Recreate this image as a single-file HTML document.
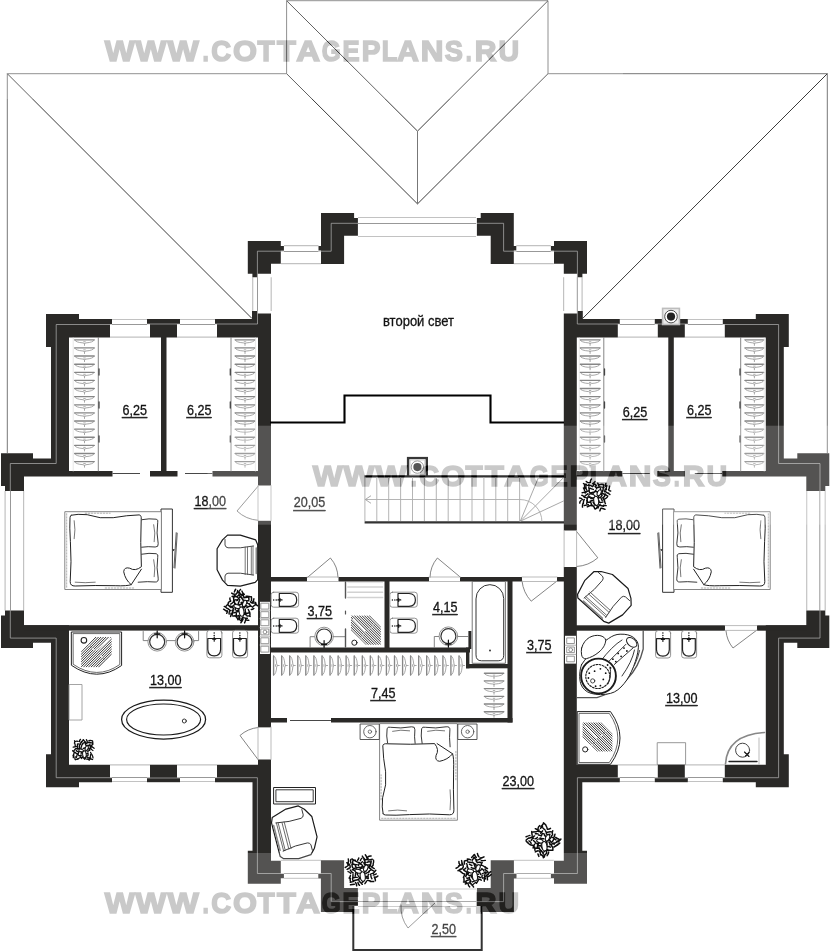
<!DOCTYPE html>
<html><head><meta charset="utf-8"><title>Plan</title>
<style>html,body{margin:0;padding:0;background:#fff;}svg{display:block;}text{font-family:"Liberation Sans",sans-serif;}</style>
</head><body>
<svg width="831" height="952" viewBox="0 0 831 952" shape-rendering="geometricPrecision">
<g id="roof">
<polyline points="7.3,453 7.3,73.7 286.6,73.7 286.6,0.7 548,0.7 548,73.7 827.3,73.7 827.3,453" fill="none" stroke="#777" stroke-width="1" />
<polyline points="7.3,73.7 252,318.5" fill="none" stroke="#3c3c3c" stroke-width="1" />
<polyline points="827.3,73.7 582.6,318.5" fill="none" stroke="#3c3c3c" stroke-width="1" />
<polyline points="286.6,0.7 417.5,131.1 548,0.7" fill="none" stroke="#3c3c3c" stroke-width="1" />
<polyline points="286.6,73.7 417.5,203.9 548,73.7" fill="none" stroke="#3c3c3c" stroke-width="1" />
<polyline points="417.5,131.1 417.5,203.9" fill="none" stroke="#777" stroke-width="1" />
</g>
<g id="windows">
<polyline points="358,217.5 476,217.5" fill="none" stroke="#c2c2c2" stroke-width="1.2" />
<polyline points="358,223.5 476,223.5" fill="none" stroke="#8c8c8c" stroke-width="0.9" />
<polyline points="358,236.5 476,236.5" fill="none" stroke="#c2c2c2" stroke-width="1.2" />
<polyline points="284,245.6 318.5,245.6" fill="none" stroke="#c2c2c2" stroke-width="1.2" />
<polyline points="550.8,245.6 516.3,245.6" fill="none" stroke="#c2c2c2" stroke-width="1.2" />
<polyline points="284,251.5 318.5,251.5" fill="none" stroke="#8c8c8c" stroke-width="0.9" />
<polyline points="550.8,251.5 516.3,251.5" fill="none" stroke="#8c8c8c" stroke-width="0.9" />
<polyline points="281,263.6 321,263.6" fill="none" stroke="#c2c2c2" stroke-width="1.2" />
<polyline points="553.8,263.6 513.8,263.6" fill="none" stroke="#c2c2c2" stroke-width="1.2" />
<polyline points="252.7,277.3 252.7,311" fill="none" stroke="#c2c2c2" stroke-width="1.2" />
<polyline points="582.1,277.3 582.1,311" fill="none" stroke="#c2c2c2" stroke-width="1.2" />
<polyline points="257.5,277.3 257.5,311" fill="none" stroke="#8c8c8c" stroke-width="0.9" />
<polyline points="577.3,277.3 577.3,311" fill="none" stroke="#8c8c8c" stroke-width="0.9" />
<polyline points="271.2,277.3 271.2,311" fill="none" stroke="#c2c2c2" stroke-width="1.2" />
<polyline points="563.6,277.3 563.6,311" fill="none" stroke="#c2c2c2" stroke-width="1.2" />
<polyline points="112,319.5 147,319.5" fill="none" stroke="#c2c2c2" stroke-width="1.2" />
<polyline points="722.8,319.5 687.8,319.5" fill="none" stroke="#c2c2c2" stroke-width="1.2" />
<polyline points="112,324.5 147,324.5" fill="none" stroke="#8c8c8c" stroke-width="0.9" />
<polyline points="722.8,324.5 687.8,324.5" fill="none" stroke="#8c8c8c" stroke-width="0.9" />
<polyline points="180,319.5 215,319.5" fill="none" stroke="#c2c2c2" stroke-width="1.2" />
<polyline points="654.8,319.5 619.8,319.5" fill="none" stroke="#c2c2c2" stroke-width="1.2" />
<polyline points="180,324.5 215,324.5" fill="none" stroke="#8c8c8c" stroke-width="0.9" />
<polyline points="654.8,324.5 619.8,324.5" fill="none" stroke="#8c8c8c" stroke-width="0.9" />
<polyline points="110,337.2 150,337.2" fill="none" stroke="#c2c2c2" stroke-width="1.2" />
<polyline points="724.8,337.2 684.8,337.2" fill="none" stroke="#c2c2c2" stroke-width="1.2" />
<polyline points="177,337.2 217,337.2" fill="none" stroke="#c2c2c2" stroke-width="1.2" />
<polyline points="657.8,337.2 617.8,337.2" fill="none" stroke="#c2c2c2" stroke-width="1.2" />
<polyline points="112,781.5 147,781.5" fill="none" stroke="#c2c2c2" stroke-width="1.2" />
<polyline points="722.8,781.5 687.8,781.5" fill="none" stroke="#c2c2c2" stroke-width="1.2" />
<polyline points="112,777.5 147,777.5" fill="none" stroke="#8c8c8c" stroke-width="0.9" />
<polyline points="722.8,777.5 687.8,777.5" fill="none" stroke="#8c8c8c" stroke-width="0.9" />
<polyline points="180,781.5 215,781.5" fill="none" stroke="#c2c2c2" stroke-width="1.2" />
<polyline points="654.8,781.5 619.8,781.5" fill="none" stroke="#c2c2c2" stroke-width="1.2" />
<polyline points="180,777.5 215,777.5" fill="none" stroke="#8c8c8c" stroke-width="0.9" />
<polyline points="654.8,777.5 619.8,777.5" fill="none" stroke="#8c8c8c" stroke-width="0.9" />
<polyline points="110,764.8 150,764.8" fill="none" stroke="#c2c2c2" stroke-width="1.2" />
<polyline points="724.8,764.8 684.8,764.8" fill="none" stroke="#c2c2c2" stroke-width="1.2" />
<polyline points="177,764.8 217,764.8" fill="none" stroke="#c2c2c2" stroke-width="1.2" />
<polyline points="657.8,764.8 617.8,764.8" fill="none" stroke="#c2c2c2" stroke-width="1.2" />
<polyline points="5.1,491 5.1,610.4" fill="none" stroke="#c2c2c2" stroke-width="1.2" />
<polyline points="825.2,491 825.2,610.4" fill="none" stroke="#c2c2c2" stroke-width="1.2" />
<polyline points="10.5,491 10.5,610.4" fill="none" stroke="#8c8c8c" stroke-width="0.9" />
<polyline points="819.8,491 819.8,610.4" fill="none" stroke="#8c8c8c" stroke-width="0.9" />
<polyline points="23.6,491 23.6,610.4" fill="none" stroke="#c2c2c2" stroke-width="1.2" />
<polyline points="806.7,491 806.7,610.4" fill="none" stroke="#c2c2c2" stroke-width="1.2" />
<polyline points="284,878.3 318.3,878.3" fill="none" stroke="#c2c2c2" stroke-width="1.2" />
<polyline points="550.8,878.3 516.5,878.3" fill="none" stroke="#c2c2c2" stroke-width="1.2" />
<polyline points="284,873.5 318.3,873.5" fill="none" stroke="#8c8c8c" stroke-width="0.9" />
<polyline points="550.8,873.5 516.5,873.5" fill="none" stroke="#8c8c8c" stroke-width="0.9" />
<polyline points="281,860.3 321,860.3" fill="none" stroke="#c2c2c2" stroke-width="1.2" />
<polyline points="553.8,860.3 513.8,860.3" fill="none" stroke="#c2c2c2" stroke-width="1.2" />
<polyline points="358,889 476,889" fill="none" stroke="#c2c2c2" stroke-width="1.2" />
<polyline points="358,901.5 476,901.5" fill="none" stroke="#8c8c8c" stroke-width="0.9" />
<polyline points="358,906.5 476,906.5" fill="none" stroke="#c2c2c2" stroke-width="1.2" />
</g>
<g id="walls">
<polygon points="321,212.9 354.1,212.9 354.1,217.9 357.9,217.9 357.9,235.8 344.1,235.8 344.1,263.9 321,263.9 321,250.6 318.5,250.6 318.5,246 321,246" fill="#2a2927" />
<polygon points="513.8,212.9 480.7,212.9 480.7,217.9 476.9,217.9 476.9,235.8 490.7,235.8 490.7,263.9 513.8,263.9 513.8,250.6 516.3,250.6 516.3,246 513.8,246" fill="#2a2927" />
<polygon points="247.8,241.1 280.8,241.1 280.8,245.9 283.9,245.9 283.9,250.7 280.8,250.7 280.8,263.8 271,263.8 271,273.8 257.6,273.8 257.6,277.3 252.4,277.3 252.4,273.8 247.8,273.8" fill="#2a2927" />
<polygon points="587,241.1 554,241.1 554,245.9 550.9,245.9 550.9,250.7 554,250.7 554,263.8 563.8,263.8 563.8,273.8 577.2,273.8 577.2,277.3 582.4,277.3 582.4,273.8 587,273.8" fill="#2a2927" />
<polygon points="252,311 257.5,311 257.5,313.5 271,313.5 271,485.5 258,485.5 258,337.5 217,337.5 217,324 215,324 215,319 252,319" fill="#2a2927" />
<polygon points="582.8,311 577.3,311 577.3,313.5 563.8,313.5 563.8,530.6 576.8,530.6 576.8,337.5 617.8,337.5 617.8,324 619.8,324 619.8,319 582.8,319" fill="#2a2927" />
<rect x="147" y="319" width="33" height="5" fill="#2a2927" />
<rect x="654.8" y="319" width="33" height="5" fill="#2a2927" />
<rect x="150" y="324" width="27" height="13.5" fill="#2a2927" />
<rect x="657.8" y="324" width="27" height="13.5" fill="#2a2927" />
<rect x="161" y="337" width="5.5" height="135" fill="#2a2927" />
<rect x="668.3" y="337" width="5.5" height="135" fill="#2a2927" />
<rect x="150" y="471" width="27.5" height="5.5" fill="#2a2927" />
<rect x="657.3" y="471" width="27.5" height="5.5" fill="#2a2927" />
<rect x="212.5" y="471" width="45.5" height="5.5" fill="#2a2927" />
<rect x="576.8" y="471" width="45.5" height="5.5" fill="#2a2927" />
<polygon points="46,314 79,314 79,319 112,319 112,324 110,324 110,337.5 69,337.5 69,471 112.5,471 112.5,476.5 24,476.5 24,491 5,491 5,486 1,486 1,453.2 33,453.2 33,458.4 51,458.4 51,347 46,347" fill="#2a2927" />
<polygon points="788.8,314 755.8,314 755.8,319 722.8,319 722.8,324 724.8,324 724.8,337.5 765.8,337.5 765.8,471 722.3,471 722.3,476.5 806.3,476.5 806.3,491 825.3,491 825.3,486 829.3,486 829.3,453.2 797.3,453.2 797.3,458.4 783.8,458.4 783.8,347 788.8,347" fill="#2a2927" />
<polygon points="46,787.2 79,787.2 79,782.2 112,782.2 112,777.7 110,777.7 110,764.7 69,764.7 69,625.2 24,625.2 24,610.4 5,610.4 5,615.4 1,615.4 1,648 33,648 33,642.8 51,642.8 51,754.3 46,754.3" fill="#2a2927" />
<polygon points="788.8,787.2 755.8,787.2 755.8,782.2 722.8,782.2 722.8,777.7 724.8,777.7 724.8,764.7 765.8,764.7 765.8,625.2 806.3,625.2 806.3,610.4 825.3,610.4 825.3,615.4 829.3,615.4 829.3,648 797.3,648 797.3,642.8 783.8,642.8 783.8,754.3 788.8,754.3" fill="#2a2927" />
<rect x="147" y="777.7" width="33" height="4.5" fill="#2a2927" />
<rect x="654.8" y="777.7" width="33" height="4.5" fill="#2a2927" />
<rect x="150" y="764.7" width="27" height="13.3" fill="#2a2927" />
<rect x="657.8" y="764.7" width="27" height="13.3" fill="#2a2927" />
<polygon points="217,764.7 258,764.7 258,759.5 271,759.5 271,860.8 280.8,860.8 280.8,873.9 283.9,873.9 283.9,878.3 280.8,878.3 280.8,883.7 247.8,883.7 247.8,850.8 252.5,850.8 252.5,782.2 215,782.2 215,777.7 217,777.7" fill="#2a2927" />
<polygon points="617.8,764.7 576.8,764.7 576.8,566.9 563.8,566.9 563.8,860.8 554,860.8 554,873.9 550.9,873.9 550.9,878.3 554,878.3 554,883.7 587,883.7 587,850.8 582.3,850.8 582.3,782.2 619.8,782.2 619.8,777.7 617.8,777.7" fill="#2a2927" />
<polygon points="320.9,911.9 354.1,911.9 354.1,906 357.9,906 357.9,888.1 344.1,888.1 344.1,860.3 320.9,860.3 320.9,873.7 318.3,873.7 318.3,878.4 320.9,878.4" fill="#2a2927" />
<polygon points="513.9,911.9 480.7,911.9 480.7,906 476.9,906 476.9,888.1 490.7,888.1 490.7,860.3 513.9,860.3 513.9,873.7 516.5,873.7 516.5,878.4 513.9,878.4" fill="#2a2927" />
<rect x="258" y="520.8" width="13" height="206.4" fill="#2a2927" />
<rect x="258" y="654" width="12.8" height="73.2" fill="#2a2927" />
<rect x="24" y="625.2" width="234" height="5.4" fill="#2a2927" />
<rect x="576" y="625.3" width="149" height="5.4" fill="#2a2927" />
<rect x="757" y="625.3" width="50" height="5.4" fill="#2a2927" />
<rect x="270" y="577" width="37" height="4.5" fill="#2a2927" />
<rect x="338.5" y="577" width="90.5" height="4.5" fill="#2a2927" />
<rect x="460" y="577" width="62" height="4.5" fill="#2a2927" />
<rect x="557" y="577" width="8" height="4.5" fill="#2a2927" />
<rect x="384.5" y="581" width="5" height="67" fill="#2a2927" />
<rect x="270" y="647.5" width="200" height="5" fill="#2a2927" />
<rect x="468.4" y="631" width="3" height="18" fill="#2a2927" />
<rect x="466" y="647.5" width="3.4" height="20.8" fill="#2a2927" />
<rect x="466" y="664" width="46" height="4.3" fill="#2a2927" />
<rect x="507.5" y="577" width="5" height="145.5" fill="#2a2927" />
<rect x="331" y="718" width="181.5" height="4.5" fill="#2a2927" />
<rect x="270" y="718" width="17" height="4.5" fill="#2a2927" />
</g>
<g id="facing">
<polyline points="358,223.3 331.2,223.3 331.2,251.2 318.5,251.2" fill="none" stroke="#b4b4b4" stroke-width="0.7" />
<polyline points="476.8,223.3 503.6,223.3 503.6,251.2 516.3,251.2" fill="none" stroke="#b4b4b4" stroke-width="0.7" />
<polyline points="284,251.2 257.4,251.2 257.4,277.3" fill="none" stroke="#b4b4b4" stroke-width="0.7" />
<polyline points="550.8,251.2 577.4,251.2 577.4,277.3" fill="none" stroke="#b4b4b4" stroke-width="0.7" />
<polyline points="257.5,311 257.5,324 215,324" fill="none" stroke="#b4b4b4" stroke-width="0.7" />
<polyline points="577.3,311 577.3,324 619.8,324" fill="none" stroke="#b4b4b4" stroke-width="0.7" />
<polyline points="180,324 147,324" fill="none" stroke="#b4b4b4" stroke-width="0.7" />
<polyline points="654.8,324 687.8,324" fill="none" stroke="#b4b4b4" stroke-width="0.7" />
<polyline points="112,324.5 56.2,324.5 56.2,463.5 10.3,463.5 10.3,491" fill="none" stroke="#b4b4b4" stroke-width="0.7" />
<polyline points="722.8,324.5 778.6,324.5 778.6,463.5 820,463.5 820,491" fill="none" stroke="#b4b4b4" stroke-width="0.7" />
<polyline points="112,777.7 56.2,777.7 56.2,638.1 10.3,638.1 10.3,610.4" fill="none" stroke="#b4b4b4" stroke-width="0.7" />
<polyline points="722.8,777.7 778.6,777.7 778.6,638.1 820,638.1 820,610.4" fill="none" stroke="#b4b4b4" stroke-width="0.7" />
<polyline points="180,778 147,778" fill="none" stroke="#b4b4b4" stroke-width="0.7" />
<polyline points="654.8,778 687.8,778" fill="none" stroke="#b4b4b4" stroke-width="0.7" />
<polyline points="215,777.7 257.4,777.7 257.4,873.5 284,873.5" fill="none" stroke="#b4b4b4" stroke-width="0.7" />
<polyline points="619.8,777.7 577.4,777.7 577.4,873.5 550.8,873.5" fill="none" stroke="#b4b4b4" stroke-width="0.7" />
<polyline points="318.3,873.5 331.2,873.5 331.2,901.6 358,901.6" fill="none" stroke="#b4b4b4" stroke-width="0.7" />
<polyline points="516.5,873.5 503.6,873.5 503.6,901.6 476.8,901.6" fill="none" stroke="#b4b4b4" stroke-width="0.7" />
</g>
<g id="thin">
<polyline points="112.5,473.5 140,473.5" fill="none" stroke="#333" stroke-width="0.9" />
<polyline points="722.3,473.5 694.8,473.5" fill="none" stroke="#333" stroke-width="0.9" />
<polyline points="185,473.5 212.5,473.5" fill="none" stroke="#333" stroke-width="0.9" />
<polyline points="649.8,473.5 622.3,473.5" fill="none" stroke="#333" stroke-width="0.9" />
<polyline points="290,720.5 331,720.5" fill="none" stroke="#333" stroke-width="0.9" />
</g>
<g id="hall">
<polyline points="270,422.5 344.5,422.5 344.5,395.5 490.5,395.5 490.5,422.5 564,422.5" fill="none" stroke="#000" stroke-width="2.1" />
<polyline points="364.6,476.4 564,476.4" fill="none" stroke="#000" stroke-width="2.4" />
<polyline points="364.6,522.4 564,522.4" fill="none" stroke="#000" stroke-width="2.3" />
<polyline points="364.9,477 364.9,521" fill="none" stroke="#999" stroke-width="0.9" />
<polyline points="376.8,477 376.8,521" fill="none" stroke="#999" stroke-width="0.9" />
<polyline points="388.7,477 388.7,521" fill="none" stroke="#999" stroke-width="0.9" />
<polyline points="400.6,477 400.6,521" fill="none" stroke="#999" stroke-width="0.9" />
<polyline points="412.5,477 412.5,521" fill="none" stroke="#999" stroke-width="0.9" />
<polyline points="424.4,477 424.4,521" fill="none" stroke="#999" stroke-width="0.9" />
<polyline points="436.3,477 436.3,521" fill="none" stroke="#999" stroke-width="0.9" />
<polyline points="448.2,477 448.2,521" fill="none" stroke="#999" stroke-width="0.9" />
<polyline points="460.1,477 460.1,521" fill="none" stroke="#999" stroke-width="0.9" />
<polyline points="472,477 472,521" fill="none" stroke="#999" stroke-width="0.9" />
<polyline points="483.9,477 483.9,521" fill="none" stroke="#999" stroke-width="0.9" />
<polyline points="495.8,477 495.8,521" fill="none" stroke="#999" stroke-width="0.9" />
<polyline points="507.7,477 507.7,521" fill="none" stroke="#999" stroke-width="0.9" />
<polyline points="519.6,477 519.6,521" fill="none" stroke="#999" stroke-width="0.9" />
<polyline points="365.5,499.5 520,499.5" fill="none" stroke="#999" stroke-width="0.9" />
<polyline points="371,495.7 365.3,499.5 371,503.3" fill="none" stroke="#888" stroke-width="0.9" />
<rect x="406.9" y="456.9" width="21.1" height="19.1" fill="#050505" />
<rect x="409.3" y="459.2" width="16.3" height="16.1" fill="#fff" />
<rect x="410.2" y="460.1" width="14.5" height="14.4" fill="#fff" stroke="#bbb" stroke-width="0.6"/>
<circle cx="417.4" cy="467.1" r="6.2" fill="#fff" stroke="#777" stroke-width="0.9"/>
<circle cx="417.4" cy="467.1" r="4.1" fill="#2a2a2a"/>
<rect x="662.6" y="308.4" width="16.8" height="16.1" fill="#ececec" stroke="#bdbdbd" stroke-width="1.6"/>
<circle cx="671" cy="316.6" r="6.3" fill="#fff" stroke="#3a3a3a" stroke-width="0.9"/>
<circle cx="671" cy="316.6" r="4.1" fill="#222"/>
<polyline points="353.3,906 353.3,950 481.7,950 481.7,906" fill="none" stroke="#000" stroke-width="2" />
</g>
<g id="furniture" fill="none" stroke-linecap="round" stroke-linejoin="round">
<path d="M74.7,340.1 Q75.7,342.4 83.0,342.9 L84.5,343.6 L86.0,342.9 Q93.2,342.4 94.2,340.1 M84.5,343.6 v1.8 M83.7,341.8 h1.6 M74.7,348.2 Q75.7,350.5 83.0,351.0 L84.5,351.7 L86.0,351.0 Q93.2,350.5 94.2,348.2 M84.5,351.7 v1.8 M83.7,349.9 h1.6 M74.7,356.3 Q75.7,358.6 83.0,359.1 L84.5,359.8 L86.0,359.1 Q93.2,358.6 94.2,356.3 M84.5,359.8 v1.8 M83.7,358.0 h1.6 M74.7,364.5 Q75.7,366.8 83.0,367.3 L84.5,368.0 L86.0,367.3 Q93.2,366.8 94.2,364.5 M84.5,368.0 v1.8 M83.7,366.2 h1.6 M74.7,372.6 Q75.7,374.9 83.0,375.4 L84.5,376.1 L86.0,375.4 Q93.2,374.9 94.2,372.6 M84.5,376.1 v1.8 M83.7,374.3 h1.6 M74.7,380.7 Q75.7,383.0 83.0,383.5 L84.5,384.2 L86.0,383.5 Q93.2,383.0 94.2,380.7 M84.5,384.2 v1.8 M83.7,382.4 h1.6 M74.7,388.8 Q75.7,391.1 83.0,391.6 L84.5,392.3 L86.0,391.6 Q93.2,391.1 94.2,388.8 M84.5,392.3 v1.8 M83.7,390.5 h1.6 M74.7,396.9 Q75.7,399.2 83.0,399.7 L84.5,400.4 L86.0,399.7 Q93.2,399.2 94.2,396.9 M84.5,400.4 v1.8 M83.7,398.6 h1.6 M74.7,405.1 Q75.7,407.4 83.0,407.9 L84.5,408.6 L86.0,407.9 Q93.2,407.4 94.2,405.1 M84.5,408.6 v1.8 M83.7,406.8 h1.6 M74.7,413.2 Q75.7,415.5 83.0,416.0 L84.5,416.7 L86.0,416.0 Q93.2,415.5 94.2,413.2 M84.5,416.7 v1.8 M83.7,414.9 h1.6 M74.7,421.3 Q75.7,423.6 83.0,424.1 L84.5,424.8 L86.0,424.1 Q93.2,423.6 94.2,421.3 M84.5,424.8 v1.8 M83.7,423.0 h1.6 M74.7,429.4 Q75.7,431.7 83.0,432.2 L84.5,432.9 L86.0,432.2 Q93.2,431.7 94.2,429.4 M84.5,432.9 v1.8 M83.7,431.1 h1.6 M74.7,437.5 Q75.7,439.8 83.0,440.3 L84.5,441.0 L86.0,440.3 Q93.2,439.8 94.2,437.5 M84.5,441.0 v1.8 M83.7,439.2 h1.6 M74.7,445.7 Q75.7,448.0 83.0,448.5 L84.5,449.2 L86.0,448.5 Q93.2,448.0 94.2,445.7 M84.5,449.2 v1.8 M83.7,447.4 h1.6 M74.7,453.8 Q75.7,456.1 83.0,456.6 L84.5,457.3 L86.0,456.6 Q93.2,456.1 94.2,453.8 M84.5,457.3 v1.8 M83.7,455.5 h1.6 M74.7,461.9 Q75.7,464.2 83.0,464.7 L84.5,465.4 L86.0,464.7 Q93.2,464.2 94.2,461.9 M84.5,465.4 v1.8 M83.7,463.6 h1.6" stroke="#9e9e9e" stroke-width="0.9"/>
<path d="M74.7,339.8 H94.2 M74.7,347.9 H94.2 M74.7,356.0 H94.2 M74.7,364.2 H94.2 M74.7,372.3 H94.2 M74.7,380.4 H94.2 M74.7,388.5 H94.2 M74.7,396.6 H94.2 M74.7,404.8 H94.2 M74.7,412.9 H94.2 M74.7,421.0 H94.2 M74.7,429.1 H94.2 M74.7,437.2 H94.2 M74.7,445.4 H94.2 M74.7,453.5 H94.2 M74.7,461.6 H94.2" stroke="#868686" stroke-width="1.35" stroke-linecap="round"/>
<path d="M235.2,340.1 Q236.2,342.4 243.5,342.9 L245.0,343.6 L246.5,342.9 Q253.8,342.4 254.8,340.1 M245.0,343.6 v1.8 M244.2,341.8 h1.6 M235.2,348.2 Q236.2,350.5 243.5,351.0 L245.0,351.7 L246.5,351.0 Q253.8,350.5 254.8,348.2 M245.0,351.7 v1.8 M244.2,349.9 h1.6 M235.2,356.3 Q236.2,358.6 243.5,359.1 L245.0,359.8 L246.5,359.1 Q253.8,358.6 254.8,356.3 M245.0,359.8 v1.8 M244.2,358.0 h1.6 M235.2,364.5 Q236.2,366.8 243.5,367.3 L245.0,368.0 L246.5,367.3 Q253.8,366.8 254.8,364.5 M245.0,368.0 v1.8 M244.2,366.2 h1.6 M235.2,372.6 Q236.2,374.9 243.5,375.4 L245.0,376.1 L246.5,375.4 Q253.8,374.9 254.8,372.6 M245.0,376.1 v1.8 M244.2,374.3 h1.6 M235.2,380.7 Q236.2,383.0 243.5,383.5 L245.0,384.2 L246.5,383.5 Q253.8,383.0 254.8,380.7 M245.0,384.2 v1.8 M244.2,382.4 h1.6 M235.2,388.8 Q236.2,391.1 243.5,391.6 L245.0,392.3 L246.5,391.6 Q253.8,391.1 254.8,388.8 M245.0,392.3 v1.8 M244.2,390.5 h1.6 M235.2,396.9 Q236.2,399.2 243.5,399.7 L245.0,400.4 L246.5,399.7 Q253.8,399.2 254.8,396.9 M245.0,400.4 v1.8 M244.2,398.6 h1.6 M235.2,405.1 Q236.2,407.4 243.5,407.9 L245.0,408.6 L246.5,407.9 Q253.8,407.4 254.8,405.1 M245.0,408.6 v1.8 M244.2,406.8 h1.6 M235.2,413.2 Q236.2,415.5 243.5,416.0 L245.0,416.7 L246.5,416.0 Q253.8,415.5 254.8,413.2 M245.0,416.7 v1.8 M244.2,414.9 h1.6 M235.2,421.3 Q236.2,423.6 243.5,424.1 L245.0,424.8 L246.5,424.1 Q253.8,423.6 254.8,421.3 M245.0,424.8 v1.8 M244.2,423.0 h1.6 M235.2,429.4 Q236.2,431.7 243.5,432.2 L245.0,432.9 L246.5,432.2 Q253.8,431.7 254.8,429.4 M245.0,432.9 v1.8 M244.2,431.1 h1.6 M235.2,437.5 Q236.2,439.8 243.5,440.3 L245.0,441.0 L246.5,440.3 Q253.8,439.8 254.8,437.5 M245.0,441.0 v1.8 M244.2,439.2 h1.6 M235.2,445.7 Q236.2,448.0 243.5,448.5 L245.0,449.2 L246.5,448.5 Q253.8,448.0 254.8,445.7 M245.0,449.2 v1.8 M244.2,447.4 h1.6 M235.2,453.8 Q236.2,456.1 243.5,456.6 L245.0,457.3 L246.5,456.6 Q253.8,456.1 254.8,453.8 M245.0,457.3 v1.8 M244.2,455.5 h1.6 M235.2,461.9 Q236.2,464.2 243.5,464.7 L245.0,465.4 L246.5,464.7 Q253.8,464.2 254.8,461.9 M245.0,465.4 v1.8 M244.2,463.6 h1.6" stroke="#9e9e9e" stroke-width="0.9"/>
<path d="M235.2,339.8 H254.8 M235.2,347.9 H254.8 M235.2,356.0 H254.8 M235.2,364.2 H254.8 M235.2,372.3 H254.8 M235.2,380.4 H254.8 M235.2,388.5 H254.8 M235.2,396.6 H254.8 M235.2,404.8 H254.8 M235.2,412.9 H254.8 M235.2,421.0 H254.8 M235.2,429.1 H254.8 M235.2,437.2 H254.8 M235.2,445.4 H254.8 M235.2,453.5 H254.8 M235.2,461.6 H254.8" stroke="#868686" stroke-width="1.35" stroke-linecap="round"/>
<path d="M580.2,340.1 Q581.2,342.4 588.6,342.9 L590.1,343.6 L591.6,342.9 Q599.0,342.4 600.0,340.1 M590.1,343.6 v1.8 M589.3,341.8 h1.6 M580.2,348.2 Q581.2,350.5 588.6,351.0 L590.1,351.7 L591.6,351.0 Q599.0,350.5 600.0,348.2 M590.1,351.7 v1.8 M589.3,349.9 h1.6 M580.2,356.3 Q581.2,358.6 588.6,359.1 L590.1,359.8 L591.6,359.1 Q599.0,358.6 600.0,356.3 M590.1,359.8 v1.8 M589.3,358.0 h1.6 M580.2,364.5 Q581.2,366.8 588.6,367.3 L590.1,368.0 L591.6,367.3 Q599.0,366.8 600.0,364.5 M590.1,368.0 v1.8 M589.3,366.2 h1.6 M580.2,372.6 Q581.2,374.9 588.6,375.4 L590.1,376.1 L591.6,375.4 Q599.0,374.9 600.0,372.6 M590.1,376.1 v1.8 M589.3,374.3 h1.6 M580.2,380.7 Q581.2,383.0 588.6,383.5 L590.1,384.2 L591.6,383.5 Q599.0,383.0 600.0,380.7 M590.1,384.2 v1.8 M589.3,382.4 h1.6 M580.2,388.8 Q581.2,391.1 588.6,391.6 L590.1,392.3 L591.6,391.6 Q599.0,391.1 600.0,388.8 M590.1,392.3 v1.8 M589.3,390.5 h1.6 M580.2,396.9 Q581.2,399.2 588.6,399.7 L590.1,400.4 L591.6,399.7 Q599.0,399.2 600.0,396.9 M590.1,400.4 v1.8 M589.3,398.6 h1.6 M580.2,405.1 Q581.2,407.4 588.6,407.9 L590.1,408.6 L591.6,407.9 Q599.0,407.4 600.0,405.1 M590.1,408.6 v1.8 M589.3,406.8 h1.6 M580.2,413.2 Q581.2,415.5 588.6,416.0 L590.1,416.7 L591.6,416.0 Q599.0,415.5 600.0,413.2 M590.1,416.7 v1.8 M589.3,414.9 h1.6 M580.2,421.3 Q581.2,423.6 588.6,424.1 L590.1,424.8 L591.6,424.1 Q599.0,423.6 600.0,421.3 M590.1,424.8 v1.8 M589.3,423.0 h1.6 M580.2,429.4 Q581.2,431.7 588.6,432.2 L590.1,432.9 L591.6,432.2 Q599.0,431.7 600.0,429.4 M590.1,432.9 v1.8 M589.3,431.1 h1.6 M580.2,437.5 Q581.2,439.8 588.6,440.3 L590.1,441.0 L591.6,440.3 Q599.0,439.8 600.0,437.5 M590.1,441.0 v1.8 M589.3,439.2 h1.6 M580.2,445.7 Q581.2,448.0 588.6,448.5 L590.1,449.2 L591.6,448.5 Q599.0,448.0 600.0,445.7 M590.1,449.2 v1.8 M589.3,447.4 h1.6 M580.2,453.8 Q581.2,456.1 588.6,456.6 L590.1,457.3 L591.6,456.6 Q599.0,456.1 600.0,453.8 M590.1,457.3 v1.8 M589.3,455.5 h1.6 M580.2,461.9 Q581.2,464.2 588.6,464.7 L590.1,465.4 L591.6,464.7 Q599.0,464.2 600.0,461.9 M590.1,465.4 v1.8 M589.3,463.6 h1.6" stroke="#9e9e9e" stroke-width="0.9"/>
<path d="M580.2,339.8 H600.0 M580.2,347.9 H600.0 M580.2,356.0 H600.0 M580.2,364.2 H600.0 M580.2,372.3 H600.0 M580.2,380.4 H600.0 M580.2,388.5 H600.0 M580.2,396.6 H600.0 M580.2,404.8 H600.0 M580.2,412.9 H600.0 M580.2,421.0 H600.0 M580.2,429.1 H600.0 M580.2,437.2 H600.0 M580.2,445.4 H600.0 M580.2,453.5 H600.0 M580.2,461.6 H600.0" stroke="#868686" stroke-width="1.35" stroke-linecap="round"/>
<path d="M745.0,340.1 Q746.0,342.4 752.9,342.9 L754.4,343.6 L755.9,342.9 Q762.8,342.4 763.8,340.1 M754.4,343.6 v1.8 M753.6,341.8 h1.6 M745.0,348.2 Q746.0,350.5 752.9,351.0 L754.4,351.7 L755.9,351.0 Q762.8,350.5 763.8,348.2 M754.4,351.7 v1.8 M753.6,349.9 h1.6 M745.0,356.3 Q746.0,358.6 752.9,359.1 L754.4,359.8 L755.9,359.1 Q762.8,358.6 763.8,356.3 M754.4,359.8 v1.8 M753.6,358.0 h1.6 M745.0,364.5 Q746.0,366.8 752.9,367.3 L754.4,368.0 L755.9,367.3 Q762.8,366.8 763.8,364.5 M754.4,368.0 v1.8 M753.6,366.2 h1.6 M745.0,372.6 Q746.0,374.9 752.9,375.4 L754.4,376.1 L755.9,375.4 Q762.8,374.9 763.8,372.6 M754.4,376.1 v1.8 M753.6,374.3 h1.6 M745.0,380.7 Q746.0,383.0 752.9,383.5 L754.4,384.2 L755.9,383.5 Q762.8,383.0 763.8,380.7 M754.4,384.2 v1.8 M753.6,382.4 h1.6 M745.0,388.8 Q746.0,391.1 752.9,391.6 L754.4,392.3 L755.9,391.6 Q762.8,391.1 763.8,388.8 M754.4,392.3 v1.8 M753.6,390.5 h1.6 M745.0,396.9 Q746.0,399.2 752.9,399.7 L754.4,400.4 L755.9,399.7 Q762.8,399.2 763.8,396.9 M754.4,400.4 v1.8 M753.6,398.6 h1.6 M745.0,405.1 Q746.0,407.4 752.9,407.9 L754.4,408.6 L755.9,407.9 Q762.8,407.4 763.8,405.1 M754.4,408.6 v1.8 M753.6,406.8 h1.6 M745.0,413.2 Q746.0,415.5 752.9,416.0 L754.4,416.7 L755.9,416.0 Q762.8,415.5 763.8,413.2 M754.4,416.7 v1.8 M753.6,414.9 h1.6 M745.0,421.3 Q746.0,423.6 752.9,424.1 L754.4,424.8 L755.9,424.1 Q762.8,423.6 763.8,421.3 M754.4,424.8 v1.8 M753.6,423.0 h1.6 M745.0,429.4 Q746.0,431.7 752.9,432.2 L754.4,432.9 L755.9,432.2 Q762.8,431.7 763.8,429.4 M754.4,432.9 v1.8 M753.6,431.1 h1.6 M745.0,437.5 Q746.0,439.8 752.9,440.3 L754.4,441.0 L755.9,440.3 Q762.8,439.8 763.8,437.5 M754.4,441.0 v1.8 M753.6,439.2 h1.6 M745.0,445.7 Q746.0,448.0 752.9,448.5 L754.4,449.2 L755.9,448.5 Q762.8,448.0 763.8,445.7 M754.4,449.2 v1.8 M753.6,447.4 h1.6 M745.0,453.8 Q746.0,456.1 752.9,456.6 L754.4,457.3 L755.9,456.6 Q762.8,456.1 763.8,453.8 M754.4,457.3 v1.8 M753.6,455.5 h1.6 M745.0,461.9 Q746.0,464.2 752.9,464.7 L754.4,465.4 L755.9,464.7 Q762.8,464.2 763.8,461.9 M754.4,465.4 v1.8 M753.6,463.6 h1.6" stroke="#9e9e9e" stroke-width="0.9"/>
<path d="M745.0,339.8 H763.8 M745.0,347.9 H763.8 M745.0,356.0 H763.8 M745.0,364.2 H763.8 M745.0,372.3 H763.8 M745.0,380.4 H763.8 M745.0,388.5 H763.8 M745.0,396.6 H763.8 M745.0,404.8 H763.8 M745.0,412.9 H763.8 M745.0,421.0 H763.8 M745.0,429.1 H763.8 M745.0,437.2 H763.8 M745.0,445.4 H763.8 M745.0,453.5 H763.8 M745.0,461.6 H763.8" stroke="#868686" stroke-width="1.35" stroke-linecap="round"/>
<polyline points="98.3,337.5 98.3,471" fill="none" stroke="#777" stroke-width="0.9" />
<polyline points="231,337.5 231,471" fill="none" stroke="#777" stroke-width="0.9" />
<polyline points="603.8,337.5 603.8,471" fill="none" stroke="#777" stroke-width="0.9" />
<polyline points="740.7,337.5 740.7,471" fill="none" stroke="#777" stroke-width="0.9" />
<polyline points="73.2,338 73.2,471" fill="none" stroke="#e2e2e2" stroke-width="0.8" />
<polyline points="255.4,338 255.4,471" fill="none" stroke="#e2e2e2" stroke-width="0.8" />
<polyline points="579.3,338 579.3,471" fill="none" stroke="#e2e2e2" stroke-width="0.8" />
<polyline points="764.2,338 764.2,471" fill="none" stroke="#e2e2e2" stroke-width="0.8" />
<polyline points="99,369 99,375" fill="none" stroke="#444" stroke-width="1.3" />
<polyline points="99,402 99,408" fill="none" stroke="#444" stroke-width="1.3" />
<polyline points="99,436 99,442" fill="none" stroke="#444" stroke-width="1.3" />
<polyline points="230.3,369 230.3,375" fill="none" stroke="#444" stroke-width="1.3" />
<polyline points="230.3,402 230.3,408" fill="none" stroke="#444" stroke-width="1.3" />
<polyline points="230.3,436 230.3,442" fill="none" stroke="#444" stroke-width="1.3" />
<polyline points="604.5,369 604.5,375" fill="none" stroke="#444" stroke-width="1.3" />
<polyline points="604.5,402 604.5,408" fill="none" stroke="#444" stroke-width="1.3" />
<polyline points="604.5,436 604.5,442" fill="none" stroke="#444" stroke-width="1.3" />
<polyline points="740,369 740,375" fill="none" stroke="#444" stroke-width="1.3" />
<polyline points="740,402 740,408" fill="none" stroke="#444" stroke-width="1.3" />
<polyline points="740,436 740,442" fill="none" stroke="#444" stroke-width="1.3" />
<path d="M273.9,656.0 Q276.2,657.0 276.7,664.0 L277.4,665.5 L276.7,667.0 Q276.2,674.0 273.9,675.0 M277.4,665.5 h1.8 M275.6,664.7 v1.6 M282.0,656.0 Q284.3,657.0 284.8,664.0 L285.5,665.5 L284.8,667.0 Q284.3,674.0 282.0,675.0 M285.5,665.5 h1.8 M283.7,664.7 v1.6 M290.0,656.0 Q292.3,657.0 292.8,664.0 L293.5,665.5 L292.8,667.0 Q292.3,674.0 290.0,675.0 M293.5,665.5 h1.8 M291.7,664.7 v1.6 M298.1,656.0 Q300.4,657.0 300.9,664.0 L301.6,665.5 L300.9,667.0 Q300.4,674.0 298.1,675.0 M301.6,665.5 h1.8 M299.8,664.7 v1.6 M306.1,656.0 Q308.4,657.0 308.9,664.0 L309.6,665.5 L308.9,667.0 Q308.4,674.0 306.1,675.0 M309.6,665.5 h1.8 M307.8,664.7 v1.6 M314.2,656.0 Q316.5,657.0 317.0,664.0 L317.7,665.5 L317.0,667.0 Q316.5,674.0 314.2,675.0 M317.7,665.5 h1.8 M315.9,664.7 v1.6 M322.3,656.0 Q324.6,657.0 325.1,664.0 L325.8,665.5 L325.1,667.0 Q324.6,674.0 322.3,675.0 M325.8,665.5 h1.8 M324.0,664.7 v1.6 M330.3,656.0 Q332.6,657.0 333.1,664.0 L333.8,665.5 L333.1,667.0 Q332.6,674.0 330.3,675.0 M333.8,665.5 h1.8 M332.0,664.7 v1.6 M338.4,656.0 Q340.7,657.0 341.2,664.0 L341.9,665.5 L341.2,667.0 Q340.7,674.0 338.4,675.0 M341.9,665.5 h1.8 M340.1,664.7 v1.6 M346.4,656.0 Q348.7,657.0 349.2,664.0 L349.9,665.5 L349.2,667.0 Q348.7,674.0 346.4,675.0 M349.9,665.5 h1.8 M348.1,664.7 v1.6 M354.5,656.0 Q356.8,657.0 357.3,664.0 L358.0,665.5 L357.3,667.0 Q356.8,674.0 354.5,675.0 M358.0,665.5 h1.8 M356.2,664.7 v1.6 M362.6,656.0 Q364.9,657.0 365.4,664.0 L366.1,665.5 L365.4,667.0 Q364.9,674.0 362.6,675.0 M366.1,665.5 h1.8 M364.3,664.7 v1.6 M370.6,656.0 Q372.9,657.0 373.4,664.0 L374.1,665.5 L373.4,667.0 Q372.9,674.0 370.6,675.0 M374.1,665.5 h1.8 M372.3,664.7 v1.6 M378.7,656.0 Q381.0,657.0 381.5,664.0 L382.2,665.5 L381.5,667.0 Q381.0,674.0 378.7,675.0 M382.2,665.5 h1.8 M380.4,664.7 v1.6 M386.7,656.0 Q389.0,657.0 389.5,664.0 L390.2,665.5 L389.5,667.0 Q389.0,674.0 386.7,675.0 M390.2,665.5 h1.8 M388.4,664.7 v1.6 M394.8,656.0 Q397.1,657.0 397.6,664.0 L398.3,665.5 L397.6,667.0 Q397.1,674.0 394.8,675.0 M398.3,665.5 h1.8 M396.5,664.7 v1.6 M402.9,656.0 Q405.2,657.0 405.7,664.0 L406.4,665.5 L405.7,667.0 Q405.2,674.0 402.9,675.0 M406.4,665.5 h1.8 M404.6,664.7 v1.6 M410.9,656.0 Q413.2,657.0 413.7,664.0 L414.4,665.5 L413.7,667.0 Q413.2,674.0 410.9,675.0 M414.4,665.5 h1.8 M412.6,664.7 v1.6 M419.0,656.0 Q421.3,657.0 421.8,664.0 L422.5,665.5 L421.8,667.0 Q421.3,674.0 419.0,675.0 M422.5,665.5 h1.8 M420.7,664.7 v1.6 M427.0,656.0 Q429.3,657.0 429.8,664.0 L430.5,665.5 L429.8,667.0 Q429.3,674.0 427.0,675.0 M430.5,665.5 h1.8 M428.7,664.7 v1.6 M435.1,656.0 Q437.4,657.0 437.9,664.0 L438.6,665.5 L437.9,667.0 Q437.4,674.0 435.1,675.0 M438.6,665.5 h1.8 M436.8,664.7 v1.6 M443.2,656.0 Q445.5,657.0 446.0,664.0 L446.7,665.5 L446.0,667.0 Q445.5,674.0 443.2,675.0 M446.7,665.5 h1.8 M444.9,664.7 v1.6 M451.2,656.0 Q453.5,657.0 454.0,664.0 L454.7,665.5 L454.0,667.0 Q453.5,674.0 451.2,675.0 M454.7,665.5 h1.8 M452.9,664.7 v1.6 M459.3,656.0 Q461.6,657.0 462.1,664.0 L462.8,665.5 L462.1,667.0 Q461.6,674.0 459.3,675.0 M462.8,665.5 h1.8 M461.0,664.7 v1.6" stroke="#9e9e9e" stroke-width="0.9"/>
<path d="M273.6,656.0 V675.0 M281.7,656.0 V675.0 M289.7,656.0 V675.0 M297.8,656.0 V675.0 M305.8,656.0 V675.0 M313.9,656.0 V675.0 M322.0,656.0 V675.0 M330.0,656.0 V675.0 M338.1,656.0 V675.0 M346.1,656.0 V675.0 M354.2,656.0 V675.0 M362.3,656.0 V675.0 M370.3,656.0 V675.0 M378.4,656.0 V675.0 M386.4,656.0 V675.0 M394.5,656.0 V675.0 M402.6,656.0 V675.0 M410.6,656.0 V675.0 M418.7,656.0 V675.0 M426.7,656.0 V675.0 M434.8,656.0 V675.0 M442.9,656.0 V675.0 M450.9,656.0 V675.0 M459.0,656.0 V675.0" stroke="#868686" stroke-width="1.35" stroke-linecap="round"/>
<path d="M484.4,673.5 Q485.4,675.8 492.5,676.3 L494.0,677.0 L495.5,676.3 Q502.7,675.8 503.7,673.5 M494.0,677.0 v1.8 M493.2,675.2 h1.6 M484.4,681.2 Q485.4,683.5 492.5,684.0 L494.0,684.7 L495.5,684.0 Q502.7,683.5 503.7,681.2 M494.0,684.7 v1.8 M493.2,682.9 h1.6 M484.4,688.9 Q485.4,691.2 492.5,691.7 L494.0,692.4 L495.5,691.7 Q502.7,691.2 503.7,688.9 M494.0,692.4 v1.8 M493.2,690.6 h1.6 M484.4,696.6 Q485.4,698.9 492.5,699.4 L494.0,700.1 L495.5,699.4 Q502.7,698.9 503.7,696.6 M494.0,700.1 v1.8 M493.2,698.3 h1.6 M484.4,704.3 Q485.4,706.6 492.5,707.1 L494.0,707.8 L495.5,707.1 Q502.7,706.6 503.7,704.3 M494.0,707.8 v1.8 M493.2,706.0 h1.6 M484.4,712.0 Q485.4,714.3 492.5,714.8 L494.0,715.5 L495.5,714.8 Q502.7,714.3 503.7,712.0 M494.0,715.5 v1.8 M493.2,713.7 h1.6" stroke="#9e9e9e" stroke-width="0.9"/>
<path d="M484.4,673.2 H503.7 M484.4,680.9 H503.7 M484.4,688.6 H503.7 M484.4,696.3 H503.7 M484.4,704.0 H503.7 M484.4,711.7 H503.7" stroke="#868686" stroke-width="1.35" stroke-linecap="round"/>
<g transform="translate(271.1,592.2) rotate(0)"><rect x="0" y="0" width="27.5" height="15" rx="2.6" ry="2.6" stroke="#777" stroke-width="0.8" fill="#fff"/><path d="M8.2,1.3 H19.2 Q25.6,1.6 25.6,7.7 Q25.6,13.8 19.2,14.1 H8.2 Z" stroke="#222" stroke-width="1.2" fill="#fff"/><path d="M6.8,7.7 H11 M8.9,6.2 V9.2" stroke="#111" stroke-width="1.1"/><circle cx="2.6" cy="7.7" r="0.75" fill="#111" stroke="none"/><circle cx="5.1" cy="7.7" r="0.75" fill="#111" stroke="none"/></g>
<g transform="translate(271.1,618.2) rotate(0)"><rect x="0" y="0" width="27.5" height="15" rx="2.6" ry="2.6" stroke="#777" stroke-width="0.8" fill="#fff"/><path d="M8.2,1.3 H19.2 Q25.6,1.6 25.6,7.7 Q25.6,13.8 19.2,14.1 H8.2 Z" stroke="#222" stroke-width="1.2" fill="#fff"/><path d="M6.8,7.7 H11 M8.9,6.2 V9.2" stroke="#111" stroke-width="1.1"/><circle cx="2.6" cy="7.7" r="0.75" fill="#111" stroke="none"/><circle cx="5.1" cy="7.7" r="0.75" fill="#111" stroke="none"/></g>
<g transform="translate(389.8,592.2) rotate(0)"><rect x="0" y="0" width="27.5" height="15" rx="2.6" ry="2.6" stroke="#777" stroke-width="0.8" fill="#fff"/><path d="M8.2,1.3 H19.2 Q25.6,1.6 25.6,7.7 Q25.6,13.8 19.2,14.1 H8.2 Z" stroke="#222" stroke-width="1.2" fill="#fff"/><path d="M6.8,7.7 H11 M8.9,6.2 V9.2" stroke="#111" stroke-width="1.1"/><circle cx="2.6" cy="7.7" r="0.75" fill="#111" stroke="none"/><circle cx="5.1" cy="7.7" r="0.75" fill="#111" stroke="none"/></g>
<g transform="translate(389.8,618.2) rotate(0)"><rect x="0" y="0" width="27.5" height="15" rx="2.6" ry="2.6" stroke="#777" stroke-width="0.8" fill="#fff"/><path d="M8.2,1.3 H19.2 Q25.6,1.6 25.6,7.7 Q25.6,13.8 19.2,14.1 H8.2 Z" stroke="#222" stroke-width="1.2" fill="#fff"/><path d="M6.8,7.7 H11 M8.9,6.2 V9.2" stroke="#111" stroke-width="1.1"/><circle cx="2.6" cy="7.7" r="0.75" fill="#111" stroke="none"/><circle cx="5.1" cy="7.7" r="0.75" fill="#111" stroke="none"/></g>
<g transform="translate(221.9,630.3) rotate(90)"><rect x="0" y="0" width="27.5" height="15" rx="2.6" ry="2.6" stroke="#777" stroke-width="0.8" fill="#fff"/><path d="M8.2,1.3 H19.2 Q25.6,1.6 25.6,7.7 Q25.6,13.8 19.2,14.1 H8.2 Z" stroke="#222" stroke-width="1.2" fill="#fff"/><path d="M6.8,7.7 H11 M8.9,6.2 V9.2" stroke="#111" stroke-width="1.1"/><circle cx="2.6" cy="7.7" r="0.75" fill="#111" stroke="none"/><circle cx="5.1" cy="7.7" r="0.75" fill="#111" stroke="none"/></g>
<g transform="translate(247.6,630.3) rotate(90)"><rect x="0" y="0" width="27.5" height="15" rx="2.6" ry="2.6" stroke="#777" stroke-width="0.8" fill="#fff"/><path d="M8.2,1.3 H19.2 Q25.6,1.6 25.6,7.7 Q25.6,13.8 19.2,14.1 H8.2 Z" stroke="#222" stroke-width="1.2" fill="#fff"/><path d="M6.8,7.7 H11 M8.9,6.2 V9.2" stroke="#111" stroke-width="1.1"/><circle cx="2.6" cy="7.7" r="0.75" fill="#111" stroke="none"/><circle cx="5.1" cy="7.7" r="0.75" fill="#111" stroke="none"/></g>
<g transform="translate(670.6,630.5) rotate(90)"><rect x="0" y="0" width="27.5" height="15" rx="2.6" ry="2.6" stroke="#777" stroke-width="0.8" fill="#fff"/><path d="M8.2,1.3 H19.2 Q25.6,1.6 25.6,7.7 Q25.6,13.8 19.2,14.1 H8.2 Z" stroke="#222" stroke-width="1.2" fill="#fff"/><path d="M6.8,7.7 H11 M8.9,6.2 V9.2" stroke="#111" stroke-width="1.1"/><circle cx="2.6" cy="7.7" r="0.75" fill="#111" stroke="none"/><circle cx="5.1" cy="7.7" r="0.75" fill="#111" stroke="none"/></g>
<g transform="translate(696.6,630.5) rotate(90)"><rect x="0" y="0" width="27.5" height="15" rx="2.6" ry="2.6" stroke="#777" stroke-width="0.8" fill="#fff"/><path d="M8.2,1.3 H19.2 Q25.6,1.6 25.6,7.7 Q25.6,13.8 19.2,14.1 H8.2 Z" stroke="#222" stroke-width="1.2" fill="#fff"/><path d="M6.8,7.7 H11 M8.9,6.2 V9.2" stroke="#111" stroke-width="1.1"/><circle cx="2.6" cy="7.7" r="0.75" fill="#111" stroke="none"/><circle cx="5.1" cy="7.7" r="0.75" fill="#111" stroke="none"/></g>
<polyline points="310.1,647.5 310.1,636.7 315,636.7" fill="none" stroke="#777" stroke-width="0.9" />
<polyline points="333.2,636.7 344.8,636.7" fill="none" stroke="#777" stroke-width="0.9" />
<circle cx="324.1" cy="636.5" r="9.3" fill="#fff" stroke="#888" stroke-width="0.9"/>
<circle cx="324.1" cy="636.5" r="7.5" stroke="#333" stroke-width="1.2"/>
<path d="M324.1,640.5 V647.5 M321.5,644.5 H326.70000000000005" stroke="#111" stroke-width="1.2"/>
<polyline points="434.3,647.5 434.3,636.5 439.5,636.5" fill="none" stroke="#777" stroke-width="0.9" />
<polyline points="457.6,636.5 468.4,636.5" fill="none" stroke="#777" stroke-width="0.9" />
<circle cx="448.4" cy="636.2" r="9.3" fill="#fff" stroke="#888" stroke-width="0.9"/>
<circle cx="448.4" cy="636.2" r="7.5" stroke="#333" stroke-width="1.2"/>
<path d="M448.4,640.2 V647.2 M445.79999999999995,644.2 H451.0" stroke="#111" stroke-width="1.2"/>
<polyline points="143.2,631.5 143.2,640.6 149,640.6" fill="none" stroke="#777" stroke-width="0.9" />
<polyline points="165.4,640.6 176.4,640.6" fill="none" stroke="#777" stroke-width="0.9" />
<polyline points="192.8,640.6 198.6,640.6 198.6,631.5" fill="none" stroke="#777" stroke-width="0.9" />
<circle cx="157.2" cy="641.8" r="9.3" fill="#fff" stroke="#888" stroke-width="0.9"/>
<circle cx="157.2" cy="641.8" r="7.5" stroke="#333" stroke-width="1.2"/>
<path d="M157.2,630.8 V637.8 M154.6,633.8 H159.79999999999998" stroke="#111" stroke-width="1.2"/>
<circle cx="184.6" cy="641.8" r="9.3" fill="#fff" stroke="#888" stroke-width="0.9"/>
<circle cx="184.6" cy="641.8" r="7.5" stroke="#333" stroke-width="1.2"/>
<path d="M184.6,630.8 V637.8 M182.0,633.8 H187.2" stroke="#111" stroke-width="1.2"/>
<clipPath id="h1"><polygon points="351,615.5 369.8,615.5 380.8,626.8 380.8,644.7 365.8,644.7 351,630.2"/></clipPath>
<path d="M321.8,615.5 L351.0,644.7 M324.3,615.5 L353.5,644.7 M326.8,615.5 L356.0,644.7 M329.3,615.5 L358.5,644.7 M331.8,615.5 L361.0,644.7 M334.3,615.5 L363.5,644.7 M336.8,615.5 L366.0,644.7 M339.3,615.5 L368.5,644.7 M341.8,615.5 L371.0,644.7 M344.3,615.5 L373.5,644.7 M346.8,615.5 L376.0,644.7 M349.3,615.5 L378.5,644.7 M351.8,615.5 L381.0,644.7 M354.3,615.5 L383.5,644.7 M356.8,615.5 L386.0,644.7 M359.3,615.5 L388.5,644.7 M361.8,615.5 L391.0,644.7 M364.3,615.5 L393.5,644.7 M366.8,615.5 L396.0,644.7 M369.3,615.5 L398.5,644.7 M371.8,615.5 L401.0,644.7 M374.3,615.5 L403.5,644.7 M376.8,615.5 L406.0,644.7 M379.3,615.5 L408.5,644.7" stroke="#2a2a2a" stroke-width="0.95" clip-path="url(#h1)"/>
<polyline points="353.5,619 365,631" fill="none" stroke="#fff" stroke-width="1.3" />
<polyline points="374.5,624 369,629.5" fill="none" stroke="#ccc" stroke-width="1.0" />
<polyline points="364.5,634 360,638.5" fill="none" stroke="#ccc" stroke-width="1.0" />
<circle cx="354.4" cy="642.7" r="2.6" stroke="#222" stroke-width="1" fill="#fff"/>
<polyline points="345.5,582 345.5,598" fill="none" stroke="#555" stroke-width="1.4" />
<polyline points="345.5,611 345.5,614" fill="none" stroke="#555" stroke-width="1.2" />
<polyline points="345.5,629 345.5,647" fill="none" stroke="#555" stroke-width="1.4" />
<polyline points="347.8,586.9 382.6,586.9" fill="none" stroke="#d2d2d2" stroke-width="1.5" />
<polyline points="347.8,592.3 382.6,592.3" fill="none" stroke="#d2d2d2" stroke-width="1.5" />
<polyline points="347.8,597.5 382.6,597.5" fill="none" stroke="#d2d2d2" stroke-width="1.5" />
<polyline points="347.8,582.6 382.6,582.6" fill="none" stroke="#e4e4e4" stroke-width="1.0" />
<path d="M577.6,711.6 H610.5 Q629.5,738 610.5,764.3 H577.6 Z" stroke="#222" stroke-width="1" fill="#fff"/>
<path d="M579.4,713.4 H609.3 Q626.3,738 609.3,762.5 H579.4 Z" stroke="#444" stroke-width="0.8"/>
<clipPath id="h2"><polygon points="582.6,722.4 601.4,722.4 612.4,733.7 612.4,751.6 597.4,751.6 582.6,737.1"/></clipPath>
<path d="M553.4,722.4 L582.6,751.6 M555.9,722.4 L585.1,751.6 M558.4,722.4 L587.6,751.6 M560.9,722.4 L590.1,751.6 M563.4,722.4 L592.6,751.6 M565.9,722.4 L595.1,751.6 M568.4,722.4 L597.6,751.6 M570.9,722.4 L600.1,751.6 M573.4,722.4 L602.6,751.6 M575.9,722.4 L605.1,751.6 M578.4,722.4 L607.6,751.6 M580.9,722.4 L610.1,751.6 M583.4,722.4 L612.6,751.6 M585.9,722.4 L615.1,751.6 M588.4,722.4 L617.6,751.6 M590.9,722.4 L620.1,751.6 M593.4,722.4 L622.6,751.6 M595.9,722.4 L625.1,751.6 M598.4,722.4 L627.6,751.6 M600.9,722.4 L630.1,751.6 M603.4,722.4 L632.6,751.6 M605.9,722.4 L635.1,751.6 M608.4,722.4 L637.6,751.6 M610.9,722.4 L640.1,751.6" stroke="#2a2a2a" stroke-width="0.95" clip-path="url(#h2)"/>
<polyline points="585.1,725.9 596.6,737.9" fill="none" stroke="#fff" stroke-width="1.3" />
<polyline points="606.1,730.9 600.6,736.4" fill="none" stroke="#ccc" stroke-width="1.0" />
<polyline points="596.1,740.9 591.6,745.4" fill="none" stroke="#ccc" stroke-width="1.0" />
<circle cx="585.2" cy="749.4" r="2.6" stroke="#222" stroke-width="1" fill="#fff"/>
<path d="M71.7,632 H121.6 V665.5 Q97,683 71.7,665.5 Z" stroke="#222" stroke-width="1" fill="#fff"/>
<path d="M73.5,633.6 H119.8 V664.5 Q97,680.5 73.5,664.5 Z" stroke="#444" stroke-width="0.8"/>
<clipPath id="h3"><polygon points="95.2,636.9 111.6,636.9 111.6,655.2 100,667.2 81.2,667.2 81.2,651.4"/></clipPath>
<path d="M81.2,636.9 L50.9,667.2 M83.7,636.9 L53.4,667.2 M86.2,636.9 L55.9,667.2 M88.7,636.9 L58.4,667.2 M91.2,636.9 L60.9,667.2 M93.7,636.9 L63.4,667.2 M96.2,636.9 L65.9,667.2 M98.7,636.9 L68.4,667.2 M101.2,636.9 L70.9,667.2 M103.7,636.9 L73.4,667.2 M106.2,636.9 L75.9,667.2 M108.7,636.9 L78.4,667.2 M111.2,636.9 L80.9,667.2 M113.7,636.9 L83.4,667.2 M116.2,636.9 L85.9,667.2 M118.7,636.9 L88.4,667.2 M121.2,636.9 L90.9,667.2 M123.7,636.9 L93.4,667.2 M126.2,636.9 L95.9,667.2 M128.7,636.9 L98.4,667.2 M131.2,636.9 L100.9,667.2 M133.7,636.9 L103.4,667.2 M136.2,636.9 L105.9,667.2 M138.7,636.9 L108.4,667.2 M141.2,636.9 L110.9,667.2" stroke="#2a2a2a" stroke-width="0.95" clip-path="url(#h3)"/>
<polyline points="96.2,650.4 110.3,638.2" fill="none" stroke="#fff" stroke-width="1.3" />
<polyline points="89,645 94,650" fill="none" stroke="#ccc" stroke-width="1.0" />
<polyline points="100,655 105,660" fill="none" stroke="#ccc" stroke-width="1.0" />
<circle cx="83.9" cy="640.3" r="2.8" stroke="#222" stroke-width="1.1" fill="#fff"/>
<rect x="472.6" y="581.5" width="32.8" height="81.8" fill="#fff" stroke="#666" stroke-width="0.9"/>
<path d="M476,598.5 A13.85,13.85 0 0 1 503.7,598.5 V655.3 Q503.7,660.8 498.2,660.8 H481.5 Q476,660.8 476,655.3 Z" stroke="#333" stroke-width="1" fill="#fff"/>
<circle cx="490" cy="650.5" r="0.9" fill="#222" stroke="none"/>
<ellipse cx="163.6" cy="719.5" rx="42" ry="19.5" stroke="#1a1a1a" stroke-width="1.25" fill="#fff"/>
<ellipse cx="163.6" cy="719.5" rx="37" ry="15.5" stroke="#1a1a1a" stroke-width="1.15"/>
<circle cx="184.3" cy="721" r="2" stroke="#222" stroke-width="0.9"/>
<path d="M643.2,630.6 V649 A66,66 0 0 1 597,697.7 H577" stroke="#555" stroke-width="1.3" fill="none"/>
<path d="M639.6,650.5 A62.5,62.5 0 0 1 603.8,694.6" stroke="#333" stroke-width="0.9"/>
<path d="M581.6,664.5 C590,652 600,644 608.6,638.5 C612,636 616,634.2 620.1,634.2 C626,634 630,635 633.6,637.5 C637,640 638.6,643.5 638.4,647.2 C638,654 636,660 633.6,666.4 C631,673 628,679 624,683.7 C620,688.5 616,692 610.5,693.4 C604,695 597,695 591.2,693.4 C586,692 582.5,688.5 580.7,683.7 C579,678 579.5,670 581.6,664.5 Z" stroke="#222" stroke-width="1" fill="#fff"/>
<path d="M581.6,648.1 C583,643 586,639.5 589.3,637.5 C593,635.5 596.5,635 599.9,635.6 C603,636.2 605.5,638 605.7,640.4 C605.5,645 602.5,649 599,652 C595,655.5 590.5,657.5 586.4,658.7 C584,659.3 582,657.5 581.6,654.9 C581.2,652.5 581.2,650.3 581.6,648.1 Z" stroke="#222" stroke-width="1" fill="#fff"/>
<path d="M603.8,666.4 L625.9,644.3 M614.3,664.5 L633,648 M600,662 Q612,646 622,640 M622,676 Q632,662 634.5,650" stroke="#222" stroke-width="0.9"/>
<ellipse cx="631.7" cy="642.4" rx="6" ry="3.8" transform="rotate(40 631.7 642.4)" stroke="#222" stroke-width="1" fill="#fff"/>
<circle cx="598.5" cy="676" r="17.4" stroke="#1a1a1a" stroke-width="1.9" fill="#fff"/>
<circle cx="597.8" cy="676.5" r="12" stroke="#1a1a1a" stroke-width="1.1" stroke-dasharray="1.8 1.4"/>
<path d="M610,667 Q612,676 608,684" stroke="#222" stroke-width="0.9"/>
<circle cx="592.7" cy="680.9" r="2.1" stroke="#222" stroke-width="0.8" fill="#fff"/>
<circle cx="624" cy="648.1" r="0.9" fill="#111" stroke="none"/>
<circle cx="626.9" cy="651" r="0.9" fill="#111" stroke="none"/>
<circle cx="618.2" cy="653.4" r="0.9" fill="#111" stroke="none"/>
<circle cx="621.1" cy="656.3" r="0.9" fill="#111" stroke="none"/>
<circle cx="612.9" cy="659.2" r="0.9" fill="#111" stroke="none"/>
<circle cx="615.8" cy="661.6" r="0.9" fill="#111" stroke="none"/>
<circle cx="607.6" cy="665" r="0.9" fill="#111" stroke="none"/>
<circle cx="610.5" cy="667.9" r="0.9" fill="#111" stroke="none"/>
<circle cx="594.6" cy="671.2" r="0.9" fill="#111" stroke="none"/>
<circle cx="600.4" cy="668.8" r="0.9" fill="#111" stroke="none"/>
<circle cx="605.7" cy="673.2" r="0.9" fill="#111" stroke="none"/>
<circle cx="603.3" cy="679.4" r="0.9" fill="#111" stroke="none"/>
<circle cx="600.4" cy="685.7" r="0.9" fill="#111" stroke="none"/>
<circle cx="595.6" cy="686.2" r="0.9" fill="#111" stroke="none"/>
<circle cx="589.3" cy="673.2" r="0.9" fill="#111" stroke="none"/>
<circle cx="588.4" cy="678" r="0.9" fill="#111" stroke="none"/>
<rect x="260" y="601.8" width="9.9" height="52.2" fill="#fff" />
<rect x="261.2" y="603.2" width="7.6" height="5.9" fill="#fff" stroke="#8a8a8a" stroke-width="0.9"/>
<rect x="261.2" y="611.7" width="7.6" height="5.9" fill="#fff" stroke="#8a8a8a" stroke-width="0.9"/>
<rect x="261.2" y="619.8" width="7.6" height="5.9" fill="#fff" stroke="#8a8a8a" stroke-width="0.9"/>
<rect x="261.2" y="629" width="7.6" height="5.9" fill="#fff" stroke="#8a8a8a" stroke-width="0.9"/>
<rect x="261.2" y="637.8" width="7.6" height="5.9" fill="#fff" stroke="#8a8a8a" stroke-width="0.9"/>
<rect x="261.2" y="646.2" width="7.6" height="5.9" fill="#fff" stroke="#8a8a8a" stroke-width="0.9"/>
<circle cx="265" cy="632" r="1.9" stroke="#777" stroke-width="0.8"/>
<polyline points="260,610.4 269.9,610.4" fill="none" stroke="#b0b0b0" stroke-width="0.7" />
<polyline points="260,618.6 269.9,618.6" fill="none" stroke="#b0b0b0" stroke-width="0.7" />
<polyline points="260,627.6 269.9,627.6" fill="none" stroke="#b0b0b0" stroke-width="0.7" />
<polyline points="260,636.4 269.9,636.4" fill="none" stroke="#b0b0b0" stroke-width="0.7" />
<polyline points="260,645 269.9,645" fill="none" stroke="#b0b0b0" stroke-width="0.7" />
<rect x="565" y="635.8" width="11" height="27.8" fill="#fff" />
<polyline points="565,645.2 576,645.2" fill="none" stroke="#999" stroke-width="0.8" />
<polyline points="565,654.4 576,654.4" fill="none" stroke="#999" stroke-width="0.8" />
<rect x="567.1" y="637.9" width="7.3" height="5.6" fill="#fff" stroke="#8a8a8a" stroke-width="0.9"/>
<rect x="567.1" y="647" width="7.3" height="5.6" fill="#fff" stroke="#8a8a8a" stroke-width="0.9"/>
<rect x="567.1" y="656.2" width="7.3" height="5.6" fill="#fff" stroke="#8a8a8a" stroke-width="0.9"/>
<circle cx="570.7" cy="649.8" r="1.9" stroke="#777" stroke-width="0.8"/>
<rect x="69.5" y="684.5" width="12.5" height="35.5" fill="#fff" stroke="#9a9a9a" stroke-width="0.9"/>
<rect x="657.6" y="742.7" width="28" height="21.8" fill="#fff" stroke="#8c8c8c" stroke-width="0.9"/>
<path d="M725.5,764 Q727,735 764.5,732.5" stroke="#888" stroke-width="1.6"/>
<polyline points="759,738 759,764" fill="none" stroke="#aaa" stroke-width="0.8" />
<polyline points="729,761.5 757,761.5" fill="none" stroke="#222" stroke-width="1.4" />
<circle cx="742.6" cy="750.2" r="7" stroke="#444" stroke-width="1"/>
<path d="M744.5,752 l4.5,4.5 M749,752.5 l-3.5,3.5" stroke="#111" stroke-width="1.1"/>
<path d="M258,486.3 L237,511 A34.0,34.0 0 0 0 258,520.3" stroke="#666" stroke-width="0.8"/>
<path d="M576.6,531.5 L597.8,557.8 A35.0,35.0 0 0 1 576.6,566.5" stroke="#666" stroke-width="0.8"/>
<path d="M307.6,577.3 L330.4,558 A30.4,30.4 0 0 1 338,577.3" stroke="#666" stroke-width="0.8"/>
<path d="M460.5,577.3 L437.4,558 A30.5,30.5 0 0 0 430,577.3" stroke="#666" stroke-width="0.8"/>
<path d="M557,581 L531.2,601.2 A35.0,35.0 0 0 1 522,581" stroke="#666" stroke-width="0.8"/>
<path d="M757,630 L733,648 A31.0,31.0 0 0 1 726,631" stroke="#666" stroke-width="0.8"/>
<path d="M258,759.5 L240,735.5 A32.0,32.0 0 0 1 258,727.5" stroke="#666" stroke-width="0.8"/>
<path d="M435,903 L408,928 A34.1,34.1 0 0 1 401,905" stroke="#666" stroke-width="0.8"/>
<polyline points="258,485.5 258,520.8" fill="none" stroke="#aaa" stroke-width="0.8" />
<polyline points="258,727 258,759.5" fill="none" stroke="#aaa" stroke-width="0.8" />
<polyline points="271,485.5 271,520.8" fill="none" stroke="#aaa" stroke-width="0.8" />
<polyline points="271,727 271,759.5" fill="none" stroke="#aaa" stroke-width="0.8" />
<polyline points="564.1,530.6 564.1,566.9" fill="none" stroke="#aaa" stroke-width="0.8" />
<polyline points="576.6,530.6 576.6,566.9" fill="none" stroke="#aaa" stroke-width="0.8" />
<polyline points="307,577 338.5,577" fill="none" stroke="#aaa" stroke-width="0.8" />
<polyline points="307,581.5 338.5,581.5" fill="none" stroke="#aaa" stroke-width="0.8" />
<polyline points="429,577 460,577" fill="none" stroke="#aaa" stroke-width="0.8" />
<polyline points="429,581.5 460,581.5" fill="none" stroke="#aaa" stroke-width="0.8" />
<polyline points="522,577 557,577" fill="none" stroke="#aaa" stroke-width="0.8" />
<polyline points="522,581.5 557,581.5" fill="none" stroke="#aaa" stroke-width="0.8" />
<polyline points="725,625.6 757,625.6" fill="none" stroke="#aaa" stroke-width="0.8" />
<polyline points="725,630.4 757,630.4" fill="none" stroke="#aaa" stroke-width="0.8" />
<polyline points="520.3,521.2 538.5,477.5" fill="none" stroke="#888" stroke-width="0.9" />
<polyline points="520.3,521.2 563.5,477.7" fill="none" stroke="#888" stroke-width="0.9" />
<polyline points="520.3,521.2 563.5,501" fill="none" stroke="#888" stroke-width="0.9" />
<path d="M520.3,499.5 A21.6,21.6 0 0 1 541.9,521.2" stroke="#999" stroke-width="0.9"/>
<g transform="translate(65.2,511.7)"><rect x="96.2" y="-2.7" width="11" height="83.3" fill="#fff" stroke="#333" stroke-width="1"/><path d="M111,21 L108.8,56 M112,21.5 L109.8,56.5" stroke="#333" stroke-width="0.8"/><path d="M107.3,37.5 l2.2,0 l-1.1,2 z" fill="#111" stroke="none"/><rect x="0" y="0" width="96.2" height="77.8" fill="#fff" stroke="#777" stroke-width="0.9"/><path d="M1.5,2 V76 M20,1.5 H45 M40,76.3 H70" stroke="#999" stroke-width="0.8" stroke-dasharray="1.5 1.5"/><path d="M76.5,8 Q84,6.5 91,7.5 Q93.5,8 92.5,11 Q91,21 93,32 Q93.5,35.5 90,35.3 Q83,34.5 76.5,35.5" stroke="#222" stroke-width="0.9"/><path d="M88.5,13 Q90.5,21 89,30" stroke="#555" stroke-width="0.8"/><path d="M76.5,42.5 Q84,41 91,42 Q93.5,42.5 92.5,46 Q91,56 93,66.5 Q93.5,70.5 90,70.3 Q83,69.5 73,70.5" stroke="#222" stroke-width="0.9"/><path d="M88.5,48 Q90.5,56 89,65" stroke="#555" stroke-width="0.8"/><path d="M6,3.5 Q12,2 22,3 Q35,7.5 48,6 Q62,3.5 74,3.2 Q76.5,3.5 76,8 Q75,30 76.2,55 Q70,60 64.5,56.5 Q59,55 58.5,60 Q60,68 66,73 L76.2,57.5 M66,73 Q62,74.5 50,74 Q30,73.5 10,74.3 Q5,74.5 5,70 Q6.5,50 5.2,30 Q4.2,15 4.8,6 Q5,3.6 6,3.5" stroke="#222" stroke-width="1" fill="#fff"/><path d="M9,9 Q10.5,18 9,27 M10,70.5 Q20,71.5 30,70.5" stroke="#555" stroke-width="0.8"/></g>
<g transform="translate(769.8,511.7) scale(-1,1)"><rect x="96.2" y="-2.7" width="11" height="83.3" fill="#fff" stroke="#333" stroke-width="1"/><path d="M111,21 L108.8,56 M112,21.5 L109.8,56.5" stroke="#333" stroke-width="0.8"/><path d="M107.3,37.5 l2.2,0 l-1.1,2 z" fill="#111" stroke="none"/><rect x="0" y="0" width="96.2" height="77.8" fill="#fff" stroke="#777" stroke-width="0.9"/><path d="M1.5,2 V76 M20,1.5 H45 M40,76.3 H70" stroke="#999" stroke-width="0.8" stroke-dasharray="1.5 1.5"/><path d="M76.5,8 Q84,6.5 91,7.5 Q93.5,8 92.5,11 Q91,21 93,32 Q93.5,35.5 90,35.3 Q83,34.5 76.5,35.5" stroke="#222" stroke-width="0.9"/><path d="M88.5,13 Q90.5,21 89,30" stroke="#555" stroke-width="0.8"/><path d="M76.5,42.5 Q84,41 91,42 Q93.5,42.5 92.5,46 Q91,56 93,66.5 Q93.5,70.5 90,70.3 Q83,69.5 73,70.5" stroke="#222" stroke-width="0.9"/><path d="M88.5,48 Q90.5,56 89,65" stroke="#555" stroke-width="0.8"/><path d="M6,3.5 Q12,2 22,3 Q35,7.5 48,6 Q62,3.5 74,3.2 Q76.5,3.5 76,8 Q75,30 76.2,55 Q70,60 64.5,56.5 Q59,55 58.5,60 Q60,68 66,73 L76.2,57.5 M66,73 Q62,74.5 50,74 Q30,73.5 10,74.3 Q5,74.5 5,70 Q6.5,50 5.2,30 Q4.2,15 4.8,6 Q5,3.6 6,3.5" stroke="#222" stroke-width="1" fill="#fff"/><path d="M9,9 Q10.5,18 9,27 M10,70.5 Q20,71.5 30,70.5" stroke="#555" stroke-width="0.8"/></g>
<g transform="translate(379.6,819.8) rotate(-90)"><rect x="0" y="0" width="96.2" height="77.8" fill="#fff" stroke="#777" stroke-width="0.9"/><path d="M1.5,2 V76 M20,1.5 H45 M40,76.3 H70" stroke="#999" stroke-width="0.8" stroke-dasharray="1.5 1.5"/><path d="M76.5,8 Q84,6.5 91,7.5 Q93.5,8 92.5,11 Q91,21 93,32 Q93.5,35.5 90,35.3 Q83,34.5 76.5,35.5" stroke="#222" stroke-width="0.9"/><path d="M88.5,13 Q90.5,21 89,30" stroke="#555" stroke-width="0.8"/><path d="M76.5,42.5 Q84,41 91,42 Q93.5,42.5 92.5,46 Q91,56 93,66.5 Q93.5,70.5 90,70.3 Q83,69.5 73,70.5" stroke="#222" stroke-width="0.9"/><path d="M88.5,48 Q90.5,56 89,65" stroke="#555" stroke-width="0.8"/><path d="M6,3.5 Q12,2 22,3 Q35,7.5 48,6 Q62,3.5 74,3.2 Q76.5,3.5 76,8 Q75,30 76.2,55 Q70,60 64.5,56.5 Q59,55 58.5,60 Q60,68 66,73 L76.2,57.5 M66,73 Q62,74.5 50,74 Q30,73.5 10,74.3 Q5,74.5 5,70 Q6.5,50 5.2,30 Q4.2,15 4.8,6 Q5,3.6 6,3.5" stroke="#222" stroke-width="1" fill="#fff"/><path d="M9,9 Q10.5,18 9,27 M10,70.5 Q20,71.5 30,70.5" stroke="#555" stroke-width="0.8"/></g>
<rect x="360.5" y="724" width="18.8" height="15.5" fill="#fff" stroke="#444" stroke-width="0.9"/>
<circle cx="369.9" cy="731.7" r="6.2" stroke="#555" stroke-width="0.9"/><circle cx="369.9" cy="731.7" r="1.7" stroke="#555" stroke-width="0.8"/>
<rect x="458.2" y="724" width="18.8" height="15.5" fill="#fff" stroke="#444" stroke-width="0.9"/>
<circle cx="467.59999999999997" cy="731.7" r="6.2" stroke="#555" stroke-width="0.9"/><circle cx="467.59999999999997" cy="731.7" r="1.7" stroke="#555" stroke-width="0.8"/>
<g transform="translate(237.5,560.5) rotate(0) "><path d="M-10,-25.4 H2.8 L18.2,-20.6 L20.2,-15.7 V19.1 L17.7,21.8 L2.8,25.7 L-10,24.9 L-15,19.6 L-20.4,9.2 V-11.8 L-15,-20.6 Z" stroke="#1a1a1a" stroke-width="1.2" fill="#fff"/><path d="M-12.5,-21 V-15.5 Q-12,-13 -9.5,-12.7 H2.8 L16,-14.5 M-12.5,21 V15.5 Q-12,13 -9.5,12.7 H2.8 L16,14.5" stroke="#333" stroke-width="0.9"/><path d="M7.7,-13.5 V14.1 M10,-13.5 V14.1 M13.8,-13.8 V14.3 M15.5,-14.3 V14.6" stroke="#555" stroke-width="0.8"/><path d="M18.8,-12.5 V13" stroke="#888" stroke-width="1.6"/></g>
<g transform="translate(605.6,595.8) rotate(132) "><path d="M-10,-25.4 H2.8 L18.2,-20.6 L20.2,-15.7 V19.1 L17.7,21.8 L2.8,25.7 L-10,24.9 L-15,19.6 L-20.4,9.2 V-11.8 L-15,-20.6 Z" stroke="#1a1a1a" stroke-width="1.2" fill="#fff"/><path d="M-12.5,-21 V-15.5 Q-12,-13 -9.5,-12.7 H2.8 L16,-14.5 M-12.5,21 V15.5 Q-12,13 -9.5,12.7 H2.8 L16,14.5" stroke="#333" stroke-width="0.9"/><path d="M7.7,-13.5 V14.1 M10,-13.5 V14.1 M13.8,-13.8 V14.3 M15.5,-14.3 V14.6" stroke="#555" stroke-width="0.8"/><path d="M18.8,-12.5 V13" stroke="#888" stroke-width="1.6"/></g>
<g transform="translate(295,833) rotate(-14.5) scale(-1,1)"><path d="M-10,-25.4 H2.8 L18.2,-20.6 L20.2,-15.7 V19.1 L17.7,21.8 L2.8,25.7 L-10,24.9 L-15,19.6 L-20.4,9.2 V-11.8 L-15,-20.6 Z" stroke="#1a1a1a" stroke-width="1.2" fill="#fff"/><path d="M-12.5,-21 V-15.5 Q-12,-13 -9.5,-12.7 H2.8 L16,-14.5 M-12.5,21 V15.5 Q-12,13 -9.5,12.7 H2.8 L16,14.5" stroke="#333" stroke-width="0.9"/><path d="M7.7,-13.5 V14.1 M10,-13.5 V14.1 M13.8,-13.8 V14.3 M15.5,-14.3 V14.6" stroke="#555" stroke-width="0.8"/><path d="M18.8,-12.5 V13" stroke="#888" stroke-width="1.6"/></g>
<rect x="274" y="787.5" width="41.5" height="16.5" fill="#fff" stroke="#222" stroke-width="1"/>
<rect x="276.3" y="789.8" width="36.9" height="11.9" fill="#fff" stroke="#222" stroke-width="0.9"/>
</g>
<g id="labels" font-family="'Liberation Sans', sans-serif" fill="#111" stroke="#111" stroke-width="0.3" opacity="0.99">
<text transform="translate(122.5,414.5) scale(0.9,1)" x="0" y="0" font-size="14.0">6,25</text>
<rect x="121.9" y="417" width="25.4196" height="1.1" fill="#2a2a2a"/>
<text transform="translate(187,414.5) scale(0.9,1)" x="0" y="0" font-size="14.0">6,25</text>
<rect x="186.4" y="417" width="25.4196" height="1.1" fill="#2a2a2a"/>
<text transform="translate(622.7,417) scale(0.9,1)" x="0" y="0" font-size="14.0">6,25</text>
<rect x="622.1" y="419" width="25.4196" height="1.1" fill="#2a2a2a"/>
<text transform="translate(687,414.5) scale(0.9,1)" x="0" y="0" font-size="14.0">6,25</text>
<rect x="686.4" y="417" width="25.4196" height="1.1" fill="#2a2a2a"/>
<text transform="translate(194.5,506) scale(0.9,1)" x="0" y="0" font-size="14.0">18,00</text>
<rect x="193.9" y="508" width="32.4252" height="1.1" fill="#2a2a2a"/>
<text transform="translate(293.8,507.4) scale(0.9,1)" x="0" y="0" font-size="14.0">20,05</text>
<rect x="293.2" y="510" width="32.4252" height="1.1" fill="#2a2a2a"/>
<text transform="translate(608.6,530.4) scale(0.9,1)" x="0" y="0" font-size="14.0">18,00</text>
<rect x="608" y="533" width="32.4252" height="1.1" fill="#2a2a2a"/>
<text transform="translate(307.5,616) scale(0.9,1)" x="0" y="0" font-size="14.0">3,75</text>
<rect x="306.9" y="618" width="25.4196" height="1.1" fill="#2a2a2a"/>
<text transform="translate(433,612) scale(0.9,1)" x="0" y="0" font-size="14.0">4,15</text>
<rect x="432.4" y="614" width="25.4196" height="1.1" fill="#2a2a2a"/>
<text transform="translate(527,650) scale(0.9,1)" x="0" y="0" font-size="14.0">3,75</text>
<rect x="526.4" y="652" width="25.4196" height="1.1" fill="#2a2a2a"/>
<text transform="translate(371,697.5) scale(0.9,1)" x="0" y="0" font-size="14.0">7,45</text>
<rect x="370.4" y="700" width="25.4196" height="1.1" fill="#2a2a2a"/>
<text transform="translate(150,685) scale(0.9,1)" x="0" y="0" font-size="14.0">13,00</text>
<rect x="149.4" y="687" width="32.4252" height="1.1" fill="#2a2a2a"/>
<text transform="translate(666,702.5) scale(0.9,1)" x="0" y="0" font-size="14.0">13,00</text>
<rect x="665.4" y="705" width="32.4252" height="1.1" fill="#2a2a2a"/>
<text transform="translate(502.5,786) scale(0.9,1)" x="0" y="0" font-size="14.0">23,00</text>
<rect x="501.9" y="788" width="32.4252" height="1.1" fill="#2a2a2a"/>
<text transform="translate(431.5,934) scale(0.9,1)" x="0" y="0" font-size="14.0">2,50</text>
<rect x="430.9" y="936" width="25.4196" height="1.1" fill="#2a2a2a"/>
<text transform="translate(383,326) scale(0.93,1)" font-size="14">второй свет</text>
</g>
<defs><g id="wmt" font-family="'Liberation Sans', sans-serif" font-weight="bold" font-size="30.2" stroke-width="1.6" stroke-linejoin="miter"><text transform="translate(104.72,-0.7) scale(1.048,1)" x="0" y="0">W</text><text transform="translate(135.42,-0.7) scale(1.079,1)" x="0" y="0">W</text><text transform="translate(167.62,-0.7) scale(1.097,1)" x="0" y="0">W</text><text transform="translate(202.61,-0.7) scale(0.751,1)" x="0" y="0">.</text><text transform="translate(211.32,-0.7) scale(0.911,1)" x="0" y="0">C</text><text transform="translate(232.89,-0.7) scale(1.020,1)" x="0" y="0">O</text><text transform="translate(257.54,-0.7) scale(0.928,1)" x="0" y="0">T</text><text transform="translate(277.01,-0.7) scale(1.023,1)" x="0" y="0">T</text><text transform="translate(296.23,-0.7) scale(1.091,1)" x="0" y="0">A</text><text transform="translate(321.75,-0.7) scale(0.805,1)" x="0" y="0">G</text><text transform="translate(342.43,-0.7) scale(0.850,1)" x="0" y="0">E</text><text transform="translate(361.67,-0.7) scale(0.930,1)" x="0" y="0">P</text><text transform="translate(381.74,-0.7) scale(0.846,1)" x="0" y="0">L</text><text transform="translate(397.09,-0.7) scale(1.002,1)" x="0" y="0">A</text><text transform="translate(420.64,-0.7) scale(1.042,1)" x="0" y="0">N</text><text transform="translate(444.76,-0.7) scale(0.901,1)" x="0" y="0">S</text><text transform="translate(465.80,-0.7) scale(0.705,1)" x="0" y="0">.</text><text transform="translate(474.73,-0.7) scale(0.998,1)" x="0" y="0">R</text><text transform="translate(498.43,-0.7) scale(0.948,1)" x="0" y="0">U</text></g></defs>
<mask id="wmm0" maskUnits="userSpaceOnUse" x="0" y="0" width="831" height="952"><rect x="0" y="0" width="831" height="952" fill="#fff"/><use href="#wmt" transform="translate(0,61.2)" fill="#000" stroke="#000"/></mask>
<rect x="-1" y="0" width="624" height="99" fill="#fff" fill-opacity="0.2" mask="url(#wmm0)"/>
<g opacity="0.21"><use href="#wmt" transform="translate(0,61.2)" fill="#000" stroke="#000"/></g>
<mask id="wmm1" maskUnits="userSpaceOnUse" x="0" y="0" width="831" height="952"><rect x="0" y="0" width="831" height="952" fill="#fff"/><use href="#wmt" transform="translate(208,487)" fill="#000" stroke="#000"/></mask>
<rect x="207.5" y="425.7" width="624" height="99" fill="#fff" fill-opacity="0.2" mask="url(#wmm1)"/>
<g opacity="0.21"><use href="#wmt" transform="translate(208,487)" fill="#000" stroke="#000"/></g>
<mask id="wmm2" maskUnits="userSpaceOnUse" x="0" y="0" width="831" height="952"><rect x="0" y="0" width="831" height="952" fill="#fff"/><use href="#wmt" transform="translate(0,914.1)" fill="#000" stroke="#000"/></mask>
<rect x="-1" y="853" width="624" height="99" fill="#fff" fill-opacity="0.2" mask="url(#wmm2)"/>
<g opacity="0.21"><use href="#wmt" transform="translate(0,914.1)" fill="#000" stroke="#000"/></g>
<g id="plants" fill="none" stroke-linecap="round">
<path d="M241.1,602.5 Q243.3,602.4 245.2,601.4 M238.7,617.9 Q239.2,619.8 241.1,620.8 M230.5,610.7 Q229.0,609.9 227.8,608.6 M243.8,596.7 Q243.6,595.0 242.1,594.1 M243.7,608.0 Q244.9,606.4 246.8,605.8 M227.2,610.7 Q227.5,612.1 226.7,613.3 M252.4,607.2 Q253.4,605.8 255.1,605.1 M237.4,596.1 Q239.0,595.6 239.3,593.9 M246.5,602.2 Q247.7,603.9 249.7,604.2 M238.6,604.0 Q237.3,605.5 235.5,606.3 M231.0,613.1 Q231.3,614.8 230.6,616.5 M233.6,608.3 Q232.7,609.5 233.3,611.0 M242.0,609.2 Q240.5,609.7 240.1,611.2 M231.1,607.6 Q229.5,606.5 228.3,605.0 M242.7,612.7 Q241.7,614.6 239.9,615.8 M246.8,607.8 Q248.1,606.6 249.8,606.3 M230.6,601.3 Q229.2,601.5 228.3,602.6 M243.5,617.6 Q245.4,618.1 247.3,618.3 M246.1,596.3 Q248.2,595.9 250.2,596.7 M239.2,609.6 Q238.0,610.4 236.7,610.6 M236.2,594.1 Q237.7,592.7 237.6,590.6 M235.3,594.2 Q233.3,594.4 231.7,593.1 M234.7,604.4 Q234.8,602.3 234.2,600.4 M232.2,610.5 Q233.0,612.4 232.3,614.3 M238.2,603.4 Q239.2,601.6 239.7,599.6 M230.7,600.9 Q229.5,599.6 230.0,597.9 M243.6,614.4 Q245.2,614.1 246.6,615.1 M243.1,619.1 Q242.4,621.2 240.9,622.7 M250.3,601.8 Q251.4,603.1 253.2,603.2 M238.3,592.8 Q239.3,591.0 240.5,589.4 M228.5,603.1 Q227.5,604.6 226.2,605.9 M238.0,611.6 Q236.1,612.2 234.1,612.7 M233.5,601.3 Q234.1,599.2 233.3,597.2 M248.3,609.5 Q249.0,610.9 249.6,612.5 M235.7,603.8 Q234.2,604.9 232.8,606.1 M238.7,611.1 Q239.9,612.0 240.0,613.5 M236.9,600.7 Q238.1,598.9 239.6,597.5 M237.4,600.3 Q236.1,599.5 234.7,600.1 M251.3,609.5 Q252.7,609.4 253.8,608.4 M253.6,601.9 Q255.2,601.8 256.0,603.1 M243.7,600.1 Q245.5,600.7 247.5,600.8 M244.3,594.3 Q242.5,593.1 241.9,591.1 M243.8,597.8 Q245.5,597.6 247.2,597.2 M235.1,615.6 Q233.9,616.5 232.5,615.8 M243.1,617.0 Q241.8,618.0 241.6,619.6 M226.4,611.1 Q225.1,610.1 223.6,609.2 M243.1,600.4 Q242.5,598.5 240.9,597.1 M235.7,616.3 Q237.3,617.8 238.0,619.8 M249.6,612.0 Q250.2,613.9 249.8,615.9 M247.1,616.1 Q248.7,615.5 250.1,616.4 M251.4,600.6 Q251.7,598.7 251.4,596.8 M230.0,610.4 Q228.8,612.0 229.2,614.0 M236.3,613.4 Q236.0,615.0 237.2,616.3 M234.7,597.0 Q233.6,596.0 232.1,596.4 M227.1,608.5 Q225.8,607.2 224.3,606.4 M241.9,597.6 Q240.5,596.3 238.9,595.3 M248.6,600.8 Q249.3,599.0 248.5,597.4 M245.3,609.1 Q244.9,610.7 245.6,612.3 M244.2,605.3 Q244.5,603.8 245.6,602.8 M249.3,603.8 Q249.9,605.4 251.3,606.3 M238.4,615.5 Q239.4,616.8 240.0,618.4 M236.4,606.0 Q236.0,608.0 235.2,609.9 M252.7,602.0 Q253.8,600.6 253.9,598.8 M245.6,619.2 Q246.9,620.6 248.8,620.2 M242.6,605.8 Q242.0,607.9 242.7,609.9 M244.8,613.3 Q247.0,613.6 249.0,612.8 M233.2,602.2 Q232.1,603.3 230.7,604.1 M237.8,597.2 Q235.8,596.8 234.5,595.3 M233.7,608.6 Q232.5,606.8 230.5,606.0 M242.0,595.5 Q240.2,594.4 239.5,592.4 M245.5,620.4 Q245.2,621.7 244.6,622.9 M239.7,604.7 Q241.6,604.0 243.3,603.0 M241.8,612.0 Q243.1,613.1 244.8,612.9 M234.4,591.9 Q234.8,590.5 235.7,589.3 M254.8,603.7 Q256.4,604.3 257.5,605.7" stroke="#0c0c0c" stroke-width="1.46"/>
<ellipse cx="241.5" cy="611.6" rx="2.4" ry="4.7" fill="#fff" stroke="#111" stroke-width="1" transform="rotate(-8 241.5 611.6)"/>
<ellipse cx="237.0" cy="606.5" rx="3.3" ry="1.7" fill="#fff" stroke="#111" stroke-width="1" transform="rotate(15 237.0 606.5)"/>
<ellipse cx="244.6" cy="603.5" rx="1.8" ry="3.3" fill="#fff" stroke="#111" stroke-width="1" transform="rotate(25 244.6 603.5)"/>
<path d="M608.5,489.7 Q609.1,491.1 610.7,491.0 M598.2,495.8 Q599.2,497.2 598.6,498.8 M592.7,483.6 Q594.1,482.9 595.0,481.6 M591.1,503.3 Q591.5,504.5 591.9,505.8 M586.7,490.1 Q585.8,488.6 586.0,486.8 M600.0,505.3 Q601.8,505.6 603.6,506.3 M586.7,500.1 Q587.3,501.9 586.7,503.6 M605.1,493.8 Q606.1,495.4 607.9,496.1 M585.6,491.5 Q584.1,492.7 582.1,492.7 M593.2,502.3 Q594.1,503.7 594.8,505.1 M602.7,490.7 Q603.6,489.0 602.8,487.4 M588.3,490.9 Q586.4,491.6 585.2,493.1 M600.2,497.4 Q601.7,496.7 602.3,495.1 M599.2,502.4 Q601.0,502.6 602.8,502.1 M598.9,485.9 Q598.4,484.5 597.7,483.2 M606.3,489.7 Q606.2,487.6 606.8,485.5 M602.4,493.1 Q604.0,493.8 604.9,495.4 M601.7,508.2 Q603.5,508.5 605.1,509.3 M604.5,491.8 Q604.8,489.8 606.2,488.3 M597.7,487.5 Q599.4,486.6 601.3,487.1 M582.5,499.6 Q581.4,498.0 579.5,498.0 M584.4,497.3 Q583.6,495.8 581.9,495.3 M594.2,500.6 Q592.1,500.2 590.2,501.2 M592.5,505.4 Q594.2,506.6 594.8,508.7 M590.3,482.5 Q590.1,480.5 591.5,479.1 M598.3,502.3 Q597.9,504.3 596.4,505.5 M603.2,498.2 Q604.3,499.7 604.5,501.4 M601.0,508.2 Q600.3,509.4 599.9,510.8 M600.4,491.3 Q601.0,490.0 600.4,488.6 M591.7,493.5 Q590.1,494.3 589.2,495.8 M592.3,486.7 Q593.7,486.0 593.6,484.4 M594.3,497.8 Q592.6,498.6 590.8,498.6 M593.3,489.4 Q591.5,489.1 589.8,488.2 M598.4,492.8 Q599.8,494.4 601.8,494.8 M593.2,493.2 Q594.7,491.9 595.9,490.2 M591.0,497.6 Q589.3,497.8 588.0,496.8 M603.5,505.3 Q604.8,505.3 606.2,505.6 M584.2,499.5 Q583.2,501.4 583.4,503.5 M595.8,500.3 Q597.6,499.9 599.2,501.1 M587.9,493.7 Q586.7,495.0 585.1,495.6 M588.3,504.6 Q586.4,505.3 584.3,505.5 M589.7,482.8 Q587.7,482.9 586.3,481.4 M590.2,493.4 Q589.2,492.1 589.0,490.5 M587.3,498.6 Q585.8,497.1 583.7,496.5 M595.7,491.5 Q597.7,491.8 599.8,491.6 M605.2,491.2 Q606.5,492.9 608.7,493.2 M599.5,484.7 Q601.4,483.9 603.4,484.5 M592.0,486.3 Q590.5,485.1 588.6,484.7 M604.6,500.8 Q604.5,502.4 605.4,503.6 M590.7,505.5 Q588.8,505.7 587.3,506.8 M586.3,484.2 Q584.8,484.4 583.5,483.6 M596.3,485.6 Q595.6,484.4 594.3,483.8 M600.8,497.0 Q601.1,498.9 602.2,500.5 M590.9,502.3 Q589.5,502.5 588.2,502.2 M597.5,506.5 Q597.0,508.4 595.2,509.1 M589.1,491.2 Q589.4,489.4 588.8,487.8 M587.6,497.7 Q586.9,499.4 587.3,501.1 M596.7,488.6 Q596.3,487.2 595.1,486.5 M583.1,503.1 Q582.3,505.0 582.5,507.1 M604.0,487.8 Q603.0,486.6 603.8,485.2 M589.1,486.1 Q587.7,484.9 586.0,485.2 M604.6,499.2 Q606.2,498.5 607.3,497.1 M581.0,500.5 Q579.6,501.4 579.8,503.1 M596.7,497.9 Q594.8,498.6 593.8,500.3 M602.7,498.0 Q603.9,497.3 604.6,496.2 M593.5,492.2 Q592.2,492.8 590.8,492.7 M584.5,490.4 Q584.1,489.1 583.5,488.0 M601.7,493.6 Q602.0,491.9 603.0,490.5 M600.0,504.4 Q598.7,505.9 598.1,507.9 M585.1,488.4 Q584.2,486.6 584.7,484.5 M605.4,486.3 Q605.4,484.8 605.9,483.3 M609.0,489.0 Q609.4,487.6 609.5,486.1 M607.7,493.1 Q608.9,493.6 609.9,494.6" stroke="#0c0c0c" stroke-width="1.45"/>
<ellipse cx="596.2" cy="500.8" rx="2.4" ry="4.6" fill="#fff" stroke="#111" stroke-width="1" transform="rotate(-8 596.2 500.8)"/>
<ellipse cx="591.8" cy="495.8" rx="3.2" ry="1.7" fill="#fff" stroke="#111" stroke-width="1" transform="rotate(15 591.8 495.8)"/>
<ellipse cx="599.2" cy="492.8" rx="1.8" ry="3.2" fill="#fff" stroke="#111" stroke-width="1" transform="rotate(25 599.2 492.8)"/>
<path d="M79.8,748.1 Q78.8,748.8 77.5,749.1 M77.7,746.7 Q77.6,745.5 77.4,744.2 M90.6,752.4 Q90.9,753.5 91.8,754.4 M83.2,748.4 Q85.0,748.1 86.5,747.1 M85.1,753.6 Q84.1,755.1 82.9,756.2 M75.6,752.8 Q73.9,752.1 72.6,750.7 M87.5,757.7 Q89.2,758.1 90.9,758.2 M88.7,742.7 Q90.2,742.2 91.6,742.8 M82.0,744.2 Q83.0,743.2 84.3,742.5 M75.2,745.7 Q75.3,744.5 74.8,743.4 M87.8,751.6 Q88.4,750.5 89.7,750.4 M91.6,747.1 Q91.7,745.2 92.6,743.6 M86.0,745.5 Q85.1,744.0 85.1,742.3 M89.7,748.5 Q90.7,747.2 91.0,745.6 M92.0,754.8 Q93.0,756.2 93.0,757.9 M74.3,752.5 Q73.7,754.2 73.0,755.8 M80.2,756.5 Q81.3,757.4 81.7,758.6 M77.1,754.3 Q77.0,755.9 76.4,757.4 M90.9,748.6 Q91.5,749.9 92.9,750.5 M86.1,756.9 Q85.3,758.1 84.9,759.4 M80.3,757.7 Q78.9,758.3 77.4,759.0 M79.2,751.5 Q78.0,752.9 78.2,754.7 M75.1,756.7 Q74.6,758.1 75.1,759.5 M75.6,748.6 Q74.8,749.6 74.0,750.6 M81.2,749.4 Q80.5,748.0 81.4,746.6 M84.7,751.3 Q85.9,750.9 87.0,750.6 M80.4,744.5 Q79.2,744.4 78.0,743.7 M88.0,753.0 Q88.2,754.3 88.0,755.5 M78.1,741.3 Q76.5,740.9 75.1,741.5 M81.3,755.3 Q80.0,755.6 78.7,755.6 M79.5,741.7 Q79.3,740.2 80.5,739.4 M92.9,744.4 Q92.8,742.9 92.7,741.5 M86.0,745.1 Q87.7,745.7 89.3,745.1 M87.3,742.0 Q87.3,740.7 86.4,739.7 M82.3,751.5 Q83.2,752.6 84.0,753.8 M78.2,751.7 Q76.9,751.6 76.3,750.4 M88.9,740.6 Q90.7,740.2 92.5,740.8 M81.3,749.0 Q80.5,750.1 79.4,750.9 M80.1,743.9 Q80.9,742.7 81.6,741.3 M76.5,746.3 Q74.9,747.0 73.2,747.2 M81.4,747.1 Q81.4,745.0 83.0,743.8 M90.5,754.7 Q90.6,755.9 90.2,757.1 M89.3,758.8 Q91.0,758.8 92.6,759.5 M85.1,755.6 Q86.5,755.6 87.8,756.1 M85.8,743.6 Q87.4,742.8 89.1,742.2 M86.7,759.2 Q88.3,759.0 89.2,760.2 M87.7,747.7 Q88.4,749.2 90.0,749.6 M73.9,755.0 Q73.3,756.3 73.3,757.7 M77.1,753.6 Q75.7,753.3 74.9,752.1 M81.8,757.1 Q83.6,757.4 84.4,759.1 M86.7,748.9 Q86.4,747.1 87.6,745.6 M81.4,742.5 Q82.4,741.2 83.3,739.6 M85.8,742.2 Q84.4,741.2 83.5,739.8 M79.3,747.7 Q79.5,746.5 79.6,745.3 M91.7,746.5 Q92.9,747.4 94.1,748.3 M74.4,743.1 Q75.2,741.9 74.5,740.7 M80.8,751.1 Q81.8,752.5 81.1,754.1 M89.7,746.0 Q90.0,744.9 90.0,743.8 M78.0,759.4 Q76.7,758.8 75.5,759.7 M84.2,753.1 Q85.8,754.0 87.6,753.5 M77.5,747.7 Q76.6,748.4 75.6,749.0" stroke="#0c0c0c" stroke-width="1.29"/>
<ellipse cx="84.4" cy="754.2" rx="1.8" ry="3.5" fill="#fff" stroke="#111" stroke-width="1" transform="rotate(-8 84.4 754.2)"/>
<ellipse cx="81.1" cy="750.4" rx="2.4" ry="1.3" fill="#fff" stroke="#111" stroke-width="1" transform="rotate(15 81.1 750.4)"/>
<ellipse cx="86.7" cy="748.1" rx="1.4" ry="2.4" fill="#fff" stroke="#111" stroke-width="1" transform="rotate(25 86.7 748.1)"/>
<path d="M368.4,874.3 Q367.7,875.9 368.2,877.7 M365.0,878.4 Q366.8,877.7 368.4,878.6 M357.8,872.1 Q356.9,873.5 357.6,874.9 M367.0,858.4 Q366.6,856.4 365.3,854.8 M364.5,880.2 Q363.6,881.6 362.2,882.5 M358.8,880.1 Q359.2,881.7 360.7,882.6 M367.0,869.4 Q367.0,867.9 367.7,866.4 M357.1,864.6 Q355.0,865.0 353.1,863.9 M368.1,859.9 Q370.2,859.7 372.3,859.2 M374.3,877.0 Q375.4,878.8 375.4,880.8 M358.4,862.4 Q356.5,861.6 354.7,860.6 M370.9,875.4 Q370.7,877.3 371.9,878.7 M348.0,865.2 Q348.0,863.6 346.8,862.7 M353.0,874.4 Q353.0,876.0 352.8,877.5 M358.5,876.0 Q359.2,877.3 359.8,878.7 M373.3,875.1 Q374.8,874.6 376.3,873.9 M360.1,867.2 Q358.3,867.4 356.4,867.9 M354.7,868.2 Q353.9,869.7 352.3,869.8 M357.1,880.0 Q354.9,880.0 353.1,881.1 M366.5,881.3 Q365.7,882.5 364.9,883.7 M364.6,877.4 Q363.4,878.2 363.1,879.7 M360.3,864.0 Q361.3,862.9 362.4,861.8 M363.2,873.6 Q361.9,874.6 360.8,875.7 M350.9,863.1 Q350.1,861.3 350.8,859.5 M371.0,866.4 Q372.5,867.8 374.3,868.6 M365.7,859.7 Q367.3,859.6 368.1,858.3 M368.0,872.6 Q368.9,870.7 371.0,869.9 M353.8,881.4 Q352.1,882.0 350.3,882.3 M350.4,875.6 Q350.2,877.0 349.2,878.1 M367.3,880.4 Q368.6,880.7 370.1,880.8 M359.2,871.8 Q358.2,870.7 356.7,870.2 M350.7,873.4 Q349.8,871.9 348.1,871.6 M355.5,873.3 Q355.7,874.7 355.2,876.1 M365.2,864.4 Q367.1,865.1 369.1,865.1 M355.4,860.2 Q353.4,860.4 352.1,858.9 M360.4,860.6 Q360.8,859.2 361.9,858.3 M372.2,866.4 Q373.6,865.4 373.2,863.7 M350.2,867.7 Q348.7,868.6 347.1,869.4 M370.1,881.5 Q371.9,881.5 373.7,881.6 M350.2,866.8 Q350.3,865.0 348.9,863.7 M373.3,873.5 Q374.6,871.9 375.8,870.3 M364.6,859.0 Q363.3,857.7 362.3,856.1 M363.8,872.9 Q365.4,871.8 366.5,870.3 M353.2,873.0 Q351.2,872.0 350.3,870.0 M361.7,868.3 Q363.5,867.8 365.2,866.9 M353.0,877.2 Q352.2,878.7 352.8,880.2 M355.5,882.4 Q356.5,884.0 356.7,885.8 M356.3,872.4 Q355.6,870.7 353.9,870.3 M366.9,862.4 Q368.3,861.5 370.0,861.9 M365.4,862.9 Q364.9,860.8 363.8,859.0 M364.0,876.0 Q365.4,876.6 366.9,876.4 M369.2,867.2 Q369.5,865.6 370.3,864.1 M367.4,857.2 Q369.0,855.9 371.1,856.0 M373.1,864.2 Q374.0,862.2 373.5,860.1 M357.9,882.4 Q358.1,884.2 359.5,885.3 M357.6,860.2 Q358.6,859.3 358.8,857.9 M358.4,865.6 Q359.0,864.1 359.4,862.6 M363.3,866.8 Q362.4,864.8 360.3,863.9 M370.2,874.3 Q371.9,873.4 373.8,872.9 M357.2,877.4 Q355.3,876.9 353.4,877.7 M354.4,884.2 Q352.4,884.6 350.5,884.8 M353.1,868.1 Q351.9,866.5 351.9,864.5 M364.9,865.1 Q364.3,863.8 363.8,862.6 M365.7,873.7 Q367.2,872.3 369.3,871.9 M353.1,864.4 Q352.3,862.6 352.9,860.7 M358.8,878.9 Q357.7,880.2 356.0,880.2 M360.4,882.4 Q361.2,883.5 362.3,884.3 M350.4,878.4 Q349.8,879.8 350.4,881.3 M356.1,868.5 Q356.3,866.9 355.3,865.7 M359.8,870.1 Q360.1,867.8 362.0,866.5 M360.2,877.6 Q361.6,879.0 362.4,880.7 M370.4,865.2 Q371.0,863.2 371.2,861.1 M370.9,869.3 Q372.0,870.4 373.5,870.9 M368.5,867.4 Q369.8,868.3 371.1,869.1 M348.2,862.9 Q348.8,860.9 348.3,858.9 M348.4,865.2 Q346.9,866.6 345.2,867.5 M374.7,877.3 Q376.6,877.4 377.9,876.0" stroke="#0c0c0c" stroke-width="1.47"/>
<ellipse cx="362.7" cy="876.5" rx="2.5" ry="4.7" fill="#fff" stroke="#111" stroke-width="1" transform="rotate(-8 362.7 876.5)"/>
<ellipse cx="358.2" cy="871.3" rx="3.3" ry="1.8" fill="#fff" stroke="#111" stroke-width="1" transform="rotate(15 358.2 871.3)"/>
<ellipse cx="365.8" cy="868.2" rx="1.9" ry="3.3" fill="#fff" stroke="#111" stroke-width="1" transform="rotate(25 365.8 868.2)"/>
<path d="M472.2,860.3 Q473.3,859.0 474.0,857.4 M482.7,865.6 Q484.3,866.2 485.4,867.6 M471.9,871.9 Q470.7,870.4 468.8,870.6 M467.7,860.5 Q466.4,860.4 465.1,860.7 M483.9,877.7 Q484.4,879.4 484.3,881.2 M475.4,879.9 Q474.2,881.3 472.4,881.9 M463.3,867.1 Q463.3,864.9 462.3,863.0 M475.4,872.3 Q474.4,873.5 473.3,874.7 M478.8,868.8 Q478.8,866.7 480.4,865.3 M477.8,879.1 Q479.7,879.3 481.3,880.2 M473.9,868.2 Q475.6,869.2 477.5,868.7 M475.8,875.4 Q475.6,877.1 474.4,878.2 M481.2,860.8 Q483.3,860.8 485.4,860.4 M471.8,862.6 Q469.8,862.0 467.6,862.0 M468.2,884.2 Q468.3,885.9 469.7,886.9 M479.4,872.0 Q480.1,873.3 480.8,874.6 M467.0,866.9 Q467.7,865.2 466.7,863.7 M473.9,868.9 Q472.6,868.1 471.3,867.6 M469.1,878.2 Q470.1,879.7 470.9,881.4 M462.8,873.3 Q461.1,872.0 459.4,870.7 M467.3,872.6 Q465.7,871.3 463.9,870.3 M485.2,876.6 Q486.5,874.9 488.5,874.2 M488.1,873.8 Q489.4,872.7 490.8,871.7 M475.5,872.3 Q477.3,871.7 478.9,870.8 M475.6,864.3 Q473.7,863.6 472.3,862.0 M469.6,877.3 Q468.3,878.5 466.7,878.0 M476.8,859.9 Q475.0,859.3 474.4,857.6 M472.5,874.8 Q470.7,875.2 468.9,875.6 M484.9,869.2 Q486.0,870.4 487.4,871.3 M459.4,865.9 Q458.1,867.6 456.1,868.3 M477.9,859.9 Q479.5,859.3 481.2,858.6 M466.9,872.5 Q467.0,874.7 465.7,876.5 M475.9,865.0 Q477.4,865.3 478.9,865.0 M477.0,876.6 Q478.9,876.6 480.5,877.7 M481.7,868.7 Q483.2,869.4 483.9,871.0 M471.9,865.5 Q470.6,865.0 469.4,864.2 M477.3,862.7 Q478.9,862.0 480.6,862.5 M463.2,867.1 Q462.3,868.7 460.7,869.5 M482.3,873.6 Q484.0,873.2 485.4,872.0 M469.2,879.7 Q467.2,879.9 465.7,881.2 M464.7,874.5 Q464.3,876.0 463.4,877.3 M468.7,869.6 Q467.9,868.0 467.3,866.3 M481.4,865.3 Q481.1,863.7 482.2,862.5 M463.9,877.7 Q464.0,879.6 464.1,881.5 M475.5,882.5 Q474.0,883.6 472.6,884.8 M465.8,868.1 Q464.9,869.4 463.3,869.4 M478.6,879.6 Q477.8,881.6 476.4,883.2 M477.2,862.4 Q475.9,861.4 475.9,859.8 M482.2,875.3 Q481.5,876.8 482.4,878.1 M471.1,876.2 Q472.2,877.5 472.9,879.0 M461.9,863.5 Q462.0,862.0 461.6,860.6 M461.6,864.9 Q459.8,864.8 458.6,866.1 M478.9,856.7 Q477.6,855.3 477.4,853.4 M480.0,858.1 Q482.2,858.0 484.0,856.8 M469.0,883.1 Q467.0,883.1 465.3,884.0 M470.8,859.8 Q469.2,859.1 467.3,859.1 M471.3,884.7 Q472.9,885.5 473.6,887.1 M460.2,869.1 Q459.3,870.2 458.0,870.7 M469.9,881.5 Q469.8,883.2 471.3,884.0 M464.6,864.0 Q464.1,862.5 464.4,860.9 M487.1,876.1 Q487.3,877.9 487.5,879.8 M478.8,872.2 Q479.9,870.4 481.8,869.4 M471.6,857.5 Q472.9,856.1 474.0,854.7 M469.2,872.2 Q468.0,873.1 468.1,874.6 M476.7,877.9 Q475.8,879.2 475.2,880.5 M484.2,874.9 Q484.7,876.9 485.5,878.9 M475.1,874.6 Q476.8,874.3 478.5,874.3 M475.8,867.9 Q474.7,866.1 474.1,864.2 M476.3,857.5 Q475.1,856.1 474.5,854.4 M466.2,882.2 Q464.9,881.9 463.5,882.0 M487.7,876.7 Q489.7,876.0 491.2,874.5 M459.8,864.6 Q458.7,863.2 458.9,861.5 M464.9,874.0 Q463.1,874.0 461.9,872.8 M485.2,873.9 Q486.5,872.7 488.0,871.9 M485.3,866.8 Q486.0,868.2 487.5,868.5" stroke="#0c0c0c" stroke-width="1.47"/>
<ellipse cx="474.9" cy="876.2" rx="2.5" ry="4.7" fill="#fff" stroke="#111" stroke-width="1" transform="rotate(-8 474.9 876.2)"/>
<ellipse cx="470.4" cy="871.0" rx="3.3" ry="1.8" fill="#fff" stroke="#111" stroke-width="1" transform="rotate(15 470.4 871.0)"/>
<ellipse cx="478.0" cy="867.9" rx="1.9" ry="3.3" fill="#fff" stroke="#111" stroke-width="1" transform="rotate(25 478.0 867.9)"/>
<path d="M547.3,829.2 Q549.0,829.5 550.5,828.4 M541.2,850.5 Q542.5,852.2 543.5,854.1 M543.8,838.7 Q541.8,839.0 540.0,838.0 M544.9,829.8 Q543.9,828.9 542.9,827.9 M546.4,833.8 Q546.6,832.2 545.5,831.0 M534.6,844.2 Q533.3,845.9 533.1,848.1 M540.8,831.7 Q538.9,831.7 537.3,831.0 M537.4,837.3 Q536.6,838.5 535.1,838.8 M540.3,854.2 Q542.1,855.0 543.2,856.6 M538.1,850.8 Q536.7,851.3 535.3,851.9 M545.9,836.5 Q544.3,835.6 544.0,833.8 M532.7,845.2 Q531.0,845.4 529.6,844.4 M545.5,843.3 Q545.3,845.5 544.3,847.4 M539.2,851.1 Q540.7,852.7 540.6,854.9 M532.2,835.4 Q531.8,833.5 531.7,831.6 M541.2,836.0 Q540.0,835.1 538.5,835.1 M550.3,838.4 Q551.7,837.4 551.4,835.7 M528.6,838.0 Q527.3,838.9 526.2,840.1 M555.7,837.4 Q557.2,838.6 559.0,839.3 M542.8,843.0 Q541.1,842.5 539.4,843.0 M551.5,844.7 Q551.5,846.4 552.7,847.6 M547.0,846.6 Q546.0,848.3 544.9,850.1 M547.1,846.9 Q548.9,846.2 550.4,847.2 M555.9,842.6 Q556.9,841.3 558.4,840.7 M537.3,843.4 Q538.0,845.5 537.2,847.5 M548.8,838.9 Q549.9,840.4 551.0,842.1 M552.6,835.0 Q551.9,832.9 552.7,830.8 M536.0,843.2 Q534.9,841.7 533.4,840.5 M538.7,848.1 Q540.2,849.4 541.1,851.2 M534.7,847.1 Q534.8,848.8 535.0,850.4 M554.0,837.2 Q554.5,835.7 555.0,834.2 M551.6,842.3 Q553.0,841.2 553.6,839.5 M554.3,846.9 Q556.0,845.6 557.9,844.8 M547.2,829.0 Q547.2,827.3 546.1,825.9 M532.1,836.8 Q530.5,837.9 528.7,838.3 M550.7,844.4 Q552.6,843.9 554.2,842.9 M546.0,825.2 Q544.9,823.9 543.5,822.8 M538.1,828.4 Q538.2,826.6 539.7,825.6 M540.4,838.3 Q539.5,840.4 537.4,841.3 M540.8,845.8 Q541.6,847.5 542.8,848.9 M546.8,853.0 Q545.4,854.5 543.9,855.9 M546.8,842.1 Q547.0,843.7 547.1,845.3 M540.5,828.4 Q541.3,827.2 542.5,826.3 M546.0,840.4 Q545.9,838.9 546.3,837.4 M539.0,841.5 Q538.7,843.1 538.2,844.6 M538.0,833.9 Q536.7,833.6 535.4,833.8 M547.8,850.2 Q549.9,850.4 551.9,850.2 M546.3,834.1 Q548.1,834.7 550.0,834.2 M536.4,831.7 Q534.7,831.9 533.0,832.1 M540.7,833.3 Q541.7,832.1 542.6,830.8 M531.2,843.4 Q530.5,841.7 528.9,840.9 M528.8,843.6 Q527.3,842.3 526.1,840.9 M537.9,853.9 Q538.4,855.1 538.9,856.4 M529.9,835.4 Q528.0,836.0 526.1,836.7 M547.7,849.3 Q546.3,850.7 546.5,852.7 M547.8,839.2 Q548.2,837.3 548.8,835.6 M539.4,848.1 Q537.6,848.2 535.8,848.2 M552.9,846.9 Q552.8,848.5 552.9,850.2 M539.1,830.0 Q537.0,830.0 535.3,828.7 M547.5,832.2 Q549.5,831.5 551.6,831.9 M533.6,838.1 Q531.9,838.8 531.2,840.4 M558.1,842.0 Q559.4,840.5 560.9,839.1 M541.5,835.7 Q541.6,834.2 542.8,833.4 M534.6,835.9 Q533.2,836.5 532.2,837.6 M545.6,850.3 Q545.0,851.6 543.6,852.1 M549.0,842.1 Q550.2,843.2 550.0,844.9 M540.9,826.5 Q542.6,825.2 543.5,823.3 M552.6,837.4 Q554.2,838.6 555.9,839.8 M541.8,844.8 Q540.0,845.8 537.9,846.1 M542.7,842.0 Q544.5,843.1 546.6,843.0 M557.2,844.5 Q558.8,844.3 559.8,843.0 M546.0,841.9 Q547.1,840.7 548.7,840.4 M554.0,844.4 Q554.7,842.8 556.5,842.4 M544.7,855.6 Q544.6,857.2 543.2,857.8 M548.7,852.0 Q548.6,854.1 547.2,855.6" stroke="#0c0c0c" stroke-width="1.47"/>
<ellipse cx="544.4" cy="846.2" rx="2.5" ry="4.7" fill="#fff" stroke="#111" stroke-width="1" transform="rotate(-8 544.4 846.2)"/>
<ellipse cx="539.9" cy="841.0" rx="3.3" ry="1.8" fill="#fff" stroke="#111" stroke-width="1" transform="rotate(15 539.9 841.0)"/>
<ellipse cx="547.5" cy="837.9" rx="1.9" ry="3.3" fill="#fff" stroke="#111" stroke-width="1" transform="rotate(25 547.5 837.9)"/>
</g>
</svg>
</body></html>
